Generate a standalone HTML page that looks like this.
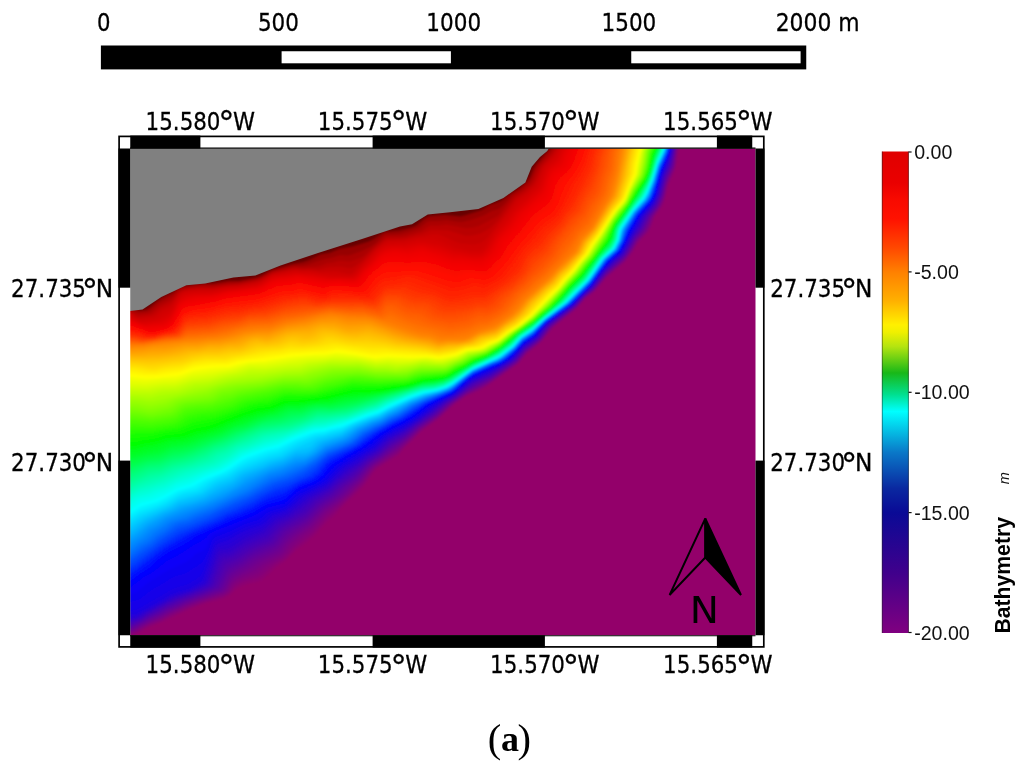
<!DOCTYPE html>
<html lang="en"><head><meta charset="utf-8"><title>Bathymetry map (a)</title>
<style>
html,body{margin:0;padding:0;background:#fff;}
body{width:1024px;height:766px;overflow:hidden;}
svg{display:block;}
.tah{font-family:"DejaVu Sans","Liberation Sans",sans-serif;font-size:25.2px;fill:#000;stroke:#000;stroke-width:0.3px;}
.ari{font-family:"Liberation Sans","DejaVu Sans",sans-serif;font-size:19.6px;fill:#111;}
</style></head><body>
<svg width="1024" height="766" viewBox="0 0 1024 766">
<defs>
<clipPath id="mapclip"><rect x="130" y="148" width="626" height="488"/></clipPath>
<filter id="soft" x="-5%" y="-5%" width="110%" height="110%"><feGaussianBlur stdDeviation="1.1"/></filter>
<linearGradient id="cbar" x1="0" y1="0" x2="0" y2="1">
<stop offset="0.0000" stop-color="#e00000"/>
<stop offset="0.0650" stop-color="#ea0000"/>
<stop offset="0.1000" stop-color="#f80a00"/>
<stop offset="0.1400" stop-color="#ff1200"/>
<stop offset="0.2000" stop-color="#ff4800"/>
<stop offset="0.2500" stop-color="#ff8000"/>
<stop offset="0.3100" stop-color="#ffb000"/>
<stop offset="0.3600" stop-color="#fff000"/>
<stop offset="0.3750" stop-color="#f0f000"/>
<stop offset="0.4050" stop-color="#b4e410"/>
<stop offset="0.4600" stop-color="#18b818"/>
<stop offset="0.5050" stop-color="#00e090"/>
<stop offset="0.5400" stop-color="#00ffff"/>
<stop offset="0.6250" stop-color="#0a78c8"/>
<stop offset="0.7000" stop-color="#0a28a0"/>
<stop offset="0.7500" stop-color="#0a0a96"/>
<stop offset="0.8750" stop-color="#40008c"/>
<stop offset="1.0000" stop-color="#800080"/>
</linearGradient>
</defs>
<rect width="1024" height="766" fill="#fff"/>

<g id="scalebar">
<rect x="100.9" y="45.5" width="705.35" height="23.9" fill="#000"/>
<rect x="281.6" y="51.25" width="169.3" height="12.05" fill="#fff"/>
<rect x="631.25" y="51.25" width="169.35" height="12.05" fill="#fff"/>
<g class="tah">
<text x="103.75" y="31" text-anchor="middle" textLength="13.5" lengthAdjust="spacingAndGlyphs">0</text>
<text x="278.4" y="31" text-anchor="middle" textLength="41" lengthAdjust="spacingAndGlyphs">500</text>
<text x="453.75" y="31" text-anchor="middle" textLength="54.8" lengthAdjust="spacingAndGlyphs">1000</text>
<text x="628.9" y="31" text-anchor="middle" textLength="54.8" lengthAdjust="spacingAndGlyphs">1500</text>
<text x="775.7" y="31" text-anchor="start" textLength="84" lengthAdjust="spacingAndGlyphs">2000 m</text>
</g></g>
<rect x="118.5" y="135.6" width="645.9" height="512" fill="#fff"/>
<g id="map" clip-path="url(#mapclip)">
<g filter="url(#soft)">
<rect x="120.25" y="138.5" width="645.25" height="506.75" fill="#680000"/>
<path fill="#970000" d="M556.4,138.5 765.5,138.5 765.5,645.5 120.5,645.5 120.5,308.9 130.5,308.6 140.5,310.4 146.5,309.4 149.5,307.6 155.5,302.3 161.5,297.9 171.5,293 178.5,288.1 184.5,285.8 202.5,283.4 213.5,283.4 228.5,281.1 238.5,281.1 256.5,277.6 261.5,275.6 271.5,270.1 291.5,264.3 303.5,262 309.5,259.9 320.5,254.6 329.5,253 339.5,249 352.5,246.6 368.5,241.7 372.5,239.8 384.5,232.1 399.5,230.4 411.5,227.6 416.5,225.4 424.5,218.7 429,216.5 444.5,215 460.5,216.4 465.5,215.3 481.5,210.2 490.5,204.7 498.5,202.2 502.5,200.1 510.7,193.5 519.5,187.9 526.5,181.7 529.8,177.5 533.5,168.8 536,164.5 549,149.5Z"/>
<path fill="#ab0000" d="M558.3,138.5 765.5,138.5 765.5,645.5 120.5,645.5 120.5,309.7 130.5,309.6 138.5,312.1 146.5,311.4 150.4,309.5 159.5,302 172.5,295.1 178.5,289.6 183.5,287.4 201.5,285 212.5,285 228.5,282.7 238.5,282.3 254.5,279.3 260.5,277.4 271.5,271.3 288.5,266.7 294.5,265.4 301.5,265.5 306.5,264.7 324.5,258.9 331.5,257.8 340.5,254.9 346.5,255.5 350.5,254.9 361.5,251 370.5,246.5 375.5,242.9 382.5,236.5 385.5,234.6 398.5,233.9 408.5,231.6 419.5,227.8 426.5,222.3 429.5,220.9 436.5,220.9 446.5,219.9 457.5,221.7 462.5,221.8 470.5,220.1 483.5,215.6 491.5,211.1 497.5,209.2 500.5,207.6 505.5,202.8 512.5,194.8 520.6,189.5 528.5,182.8 531.5,178.5 534.9,170.5 537.6,165.5 550.4,150.5 556.5,142Z"/>
<path fill="#b90000" d="M560.2,138.5 765.5,138.5 765.5,645.5 120.5,645.5 120.5,310.5 130.5,310.7 136.5,313.8 138.5,314.2 148.5,313 151.8,311.5 158.7,305.5 171.5,298.7 179.5,290.5 184.5,288.5 200.5,286.5 212.5,286.5 228.5,284.2 239.5,283.4 257.5,279.8 261.5,278.2 272.5,272.1 292.5,267.3 296.5,266.9 303.5,267.5 315.5,266.4 320.5,265.5 327.5,263.1 332.7,262.5 339.5,260.8 342.5,260.7 348.5,261.5 351.5,261.1 359.5,258.3 363.5,256.3 372.5,248 385.5,237.2 388.5,236.5 399.5,236.5 405.5,235.5 421.5,230.7 428.5,226.2 430.5,225.5 438.5,225.6 446.5,224.6 465.5,228.1 473.1,227.5 478.5,226.1 494.5,217.8 498.5,215.2 513.7,196.5 522.6,190.5 530.5,183.6 533.2,179.5 536.6,171.5 540,165.5 551.3,152.5 558.2,142.5Z"/>
<path fill="#c60000" d="M562,138.5 765.5,138.5 765.5,645.5 120.5,645.5 120.5,311.4 130.5,311.9 135.5,315.3 138.5,316.4 150.5,314.8 153.5,313.3 160.5,307.6 170.5,302.3 173.5,299.6 178.5,293 183.5,290.1 188.5,289.1 198.5,288.1 212.5,287.9 227.5,285.6 238.5,284.7 255.5,281.6 260.5,279.9 272.5,273.3 292.5,268.8 296.5,268.4 302.5,269.2 310.5,268.8 318.5,269.5 328.5,267.1 339.5,266.4 348.5,268 351.5,267.9 354.5,266.5 362.5,260.5 374.5,248.4 384.5,240.3 387.5,239 400.5,238.6 405.5,238 416.5,234.7 422.5,233.6 429.5,230.2 432.5,229.7 448.5,230.6 465.5,235.7 472.5,235.5 480.5,233.4 486.5,230.5 492.5,225.8 500.5,217.6 515.5,197.7 524.5,191.7 532.5,184.5 535,180.5 541.5,166.5 552.2,154.5 559.6,143.5Z"/>
<path fill="#cf0000" d="M563.5,139.5 563.7,138.5 765.5,138.5 765.5,645.5 120.5,645.5 120.5,312.4 129.5,312.9 131.5,313.8 136.3,317.5 139.5,318.4 152.4,316.5 155.5,315 161.5,310.3 169.5,306.3 172.5,303.3 178.5,294.9 180.5,293.2 183.8,291.5 188.5,290.4 196.5,289.6 212.5,289.3 227.5,286.8 238.5,285.8 255.5,282.7 260.5,281.2 269.5,275.8 273.5,274 293.5,270 296.5,269.8 302.5,270.6 310.5,270.4 320.5,271.7 333.5,270.9 338.5,271.4 347.5,273.4 350.5,273.5 352.5,272.7 354.5,271.1 366.5,259.3 375.5,249.4 384.5,242.6 388.5,241.1 404.5,240.3 416.5,237.2 424.5,236.3 430.5,234.4 434.5,234 438.5,234.6 443.5,236.2 454.8,241.5 461.1,243.5 473.5,244.6 479.4,243.5 483.5,241.1 487.5,237.3 502.5,218.7 517,199.5 525.5,193.7 534.3,185.5 536.7,181.5 543,167.5 545.2,164.5 553.5,156 561.5,143.5Z"/>
<path fill="#d40000" d="M565.3,138.5 765.5,138.5 765.5,645.5 120.5,645.5 120.5,313.5 129.5,314.2 135.5,318.5 139.5,320 142.5,320.2 153.5,318.4 156.5,317.3 162.5,313.1 169.5,309.5 172.5,306.1 178.5,296.9 181.2,294.5 184.5,292.8 188.5,291.8 195.5,291.1 212.5,290.6 226.5,288 238.5,286.9 255.5,283.9 260.5,282.4 269.5,276.9 273.5,275.2 293.5,271.4 310.5,271.8 322.5,273.6 347.5,275.6 351.5,275.5 353.5,274.6 355.5,272.9 376.4,250.5 383.5,245.3 388.5,243.2 404.5,242.4 418.5,239.2 433.5,239.1 440.5,240.8 456,247.5 470.5,250.2 480.5,249.7 482.5,248.5 485.5,245.3 495.4,230.5 518.5,201.7 526.5,195.7 536.1,186.5 538.5,182.2 544.4,168.5 546.7,165.5 554.8,157.5 563.3,143.5Z"/>
<path fill="#d90000" d="M567,138.5 765.5,138.5 765.5,645.5 120.5,645.5 120.5,314.7 126.5,314.9 129.5,315.6 135.5,319.6 140.5,321.6 144.5,321.7 155.5,320 159.4,318.5 169.5,312.4 172.5,308.8 178.5,298.9 181.5,296.1 185.5,294.1 195.5,292.5 211.5,292.1 226.5,289.1 238.5,288 256.5,284.9 261.5,283.1 269.5,278.1 273.5,276.3 293.5,272.7 296.5,272.4 303.5,273.3 311.5,273.4 330.5,276.3 349.5,277.1 352.5,276.8 356,274.5 377.5,251.5 384.5,246.6 390.5,244.9 404.5,244.6 417.5,241.7 422.5,241.5 439.5,244.2 454.5,250.1 460.5,250.7 471.5,253 478.5,252.9 481.5,252.3 484,250.5 486.6,247.5 495.5,233.6 505.9,221.5 512.2,212.5 520.5,203.5 527.5,197.8 537.5,187.9 540,183.5 545.9,169.5 548.2,166.5 556.5,158.6 565.1,143.5Z"/>
<path fill="#df0000" d="M568.5,139.5 568.7,138.5 765.5,138.5 765.5,645.5 120.5,645.5 120.5,316.2 128.5,316.7 137.5,321.7 142.5,323.2 145.5,323.2 158.5,321.3 161.5,320.1 169.5,315.2 171.5,312.9 178.5,300.9 181.5,298.1 185.5,295.9 189.5,294.7 195.5,294 211.5,293.4 226.5,290.2 238.5,289 256.5,286 261.5,284.3 271.5,278.3 276.5,276.7 296.5,273.6 312.5,274.9 329.5,277.8 340.5,277.7 350.5,278.3 353.5,277.9 357,275.5 362.5,269 369.6,262.5 378.5,252.6 384.5,248.6 391.5,246.6 395.5,246.3 405.5,246.7 418.5,243.9 423.5,243.8 440.5,247.5 454.5,252.8 460.5,253 471.5,255.2 478.5,255.3 481.5,254.7 484.5,252.8 487.6,249.5 496.5,235.4 508,222.5 514.8,212.5 538.8,189.5 541.1,185.5 547.3,170.5 549.5,167.8 555.8,162.5 558.3,159.5 561.6,152.5 566.9,143.5Z"/>
<path fill="#e40000" d="M570.4,138.5 765.5,138.5 765.5,645.5 120.5,645.5 120.5,318 128.5,318.1 138.5,323 144.5,324.7 160.5,322.8 163.8,321.5 169.5,317.8 172.5,313.9 178.5,302.8 181.5,300 186.5,297.3 195.5,295.5 211.5,294.7 227.5,291 237.5,290.1 256.5,287.2 261.5,285.5 271.5,279.5 277.5,277.8 297.5,274.8 313.5,276.5 328.5,279 340.5,278.8 353.5,279.3 355.5,278.5 357.5,276.9 363.5,269.9 370.6,263.5 379.5,253.7 384.5,250.6 391.5,248.5 396.5,248.1 406.5,249 418.5,246.3 423.5,246 441.5,250.7 453.5,255.3 460.5,255.4 473.5,257.4 478.5,257.5 481.5,257 485.6,254.5 489.5,250.5 497.5,237.2 510.1,223.5 516.5,213.5 537.5,194 540.5,190.7 542.5,187.2 548.5,172.1 551.4,168.5 559.5,161.5 563.1,153.5 568.7,143.5Z"/>
<path fill="#e90000" d="M572.2,138.5 765.5,138.5 765.5,645.5 120.5,645.5 120.5,319.8 125.5,319.3 129.5,319.7 139.5,324.3 145.5,326 162.5,324.2 166.5,322.3 170.5,319 172.5,316.2 178.7,304.5 181.5,301.9 186.5,299.2 195.5,297.1 212.5,295.8 227.5,292.1 237.5,291.1 257.5,288.1 262.5,286.2 271.5,280.8 277.5,279 286.5,278 297.5,276 326.5,280.2 340.5,279.8 351.5,280.8 354.5,280.5 357.8,278.5 364.7,270.5 371.5,264.5 380.5,254.9 385.5,252.1 392.5,250.3 396.5,250.1 407.5,251.4 419.5,248.5 423.5,248.3 433.5,251.7 441.5,253.5 453.5,257.9 460.5,257.8 474.5,259.6 481.5,259.3 486.3,256.5 490.7,252.5 498.9,238.5 511.5,225.1 519.3,213.5 541.8,192.5 544.1,188.5 547.5,178.6 550.5,172.5 552.5,170.1 559.5,164.9 561.6,162.5 564.8,154.5 570.5,143.6Z"/>
<path fill="#ee0000" d="M574.1,138.5 765.5,138.5 765.5,645.5 120.5,645.5 120.5,321.5 125.5,320.8 129.5,321 140.5,325.5 146.5,327.3 163.5,325.6 167.5,323.6 171.5,319.7 179.5,305.3 182.5,303 186.5,301 196.5,298.6 212.5,297 227.5,293.1 257.5,289.3 262.5,287.5 271.5,282.1 277.5,280.3 287.5,279.3 297.5,277.2 325.5,281.5 339.5,280.8 351.5,282 355.5,281.6 358.7,279.5 365.5,271.5 373.4,264.5 380.5,257 385.5,254.1 392.5,252.3 396.5,252.2 404.5,253.6 408.5,253.7 422.5,250.8 440.5,255.9 452.5,260.2 461.5,260.2 478.5,262 482.5,261.4 488.4,257.5 492.8,253.5 494.9,250.5 500.6,239.5 513,226.5 521.3,214.5 543.5,194 545.5,190.5 548.6,180.5 551.5,174.5 554,171.5 561.3,166.5 563.8,163.5 566.2,156.5 571.5,145.5Z"/>
<path fill="#f10200" d="M576,138.5 765.5,138.5 765.5,645.5 120.5,645.5 120.5,323 126.5,322.1 130.5,322.3 141.5,326.7 147.5,328.5 164.5,326.7 167.5,325.2 172.5,320 177.5,310.2 180,306.5 182.5,304.6 186.5,302.6 197.5,300.1 213.5,298 227.5,294.2 257.5,290.5 262.5,288.7 271.5,283.5 277.5,281.6 288.5,280.5 298.5,278.5 324.5,282.9 339.5,281.9 351.5,283.2 355.5,283 357.5,282.3 359.5,280.7 366.5,272.3 381.5,258.3 385.5,256.1 391.5,254.7 396.5,254.5 408.5,256 420.5,253.7 423.5,253.7 438.5,257.7 452.5,262.5 461.5,262.5 479.5,264.4 482.5,264.2 488.5,260.1 494.9,254.5 497.5,250.6 502.5,240.5 514.5,227.9 525.1,213.5 536.9,202.5 542.5,198.4 545.2,195.5 547.5,191 550.5,180.7 553.2,175.5 556,172.5 563.5,167.6 565.9,164.5Z"/>
<path fill="#f40400" d="M577.8,138.5 765.5,138.5 765.5,645.5 120.5,645.5 120.5,324.3 126.5,323.3 130.5,323.4 145.5,328.9 149.5,329.7 165.3,327.5 168.5,325.7 173.3,320.5 178.4,310.5 180.5,307.6 186.5,304.2 198.5,301.5 213.5,299.2 227.5,295.4 257.5,291.6 262.5,289.9 272.5,284.6 277.5,283.1 288.5,281.9 298.5,279.8 323.5,284.3 339.5,283 351.5,284.4 356.5,284.1 358.5,283.4 360.5,281.8 368.1,272.5 381.5,260.5 385.5,258.2 389.5,257.2 395.5,256.9 408.5,258.2 420.5,256.5 423.5,256.5 436.8,259.5 452.5,264.9 463.5,265 480.5,266.9 483.5,266.6 486.5,264.6 496.8,255.5 499.5,251.5 504.6,241.5 515.9,229.5 528,213.5 538.5,204.1 544.5,199.9 546.5,197.7 548.8,193.5 551.6,183.5 554.4,177.5 557.5,174.1 565.5,168.5 567.7,165.5Z"/>
<path fill="#f60600" d="M579.5,139.5 579.7,138.5 765.5,138.5 765.5,645.5 120.5,645.5 120.5,325.4 127.5,324.5 131.5,324.7 146.5,330.1 150.5,330.9 164.6,328.5 168.5,326.8 173.5,321.7 180.5,309.2 182.5,307.6 186.5,305.6 192.5,304 212.5,300.7 227.5,296.5 257.5,292.9 262.5,291.2 272.5,286.1 278.5,284.3 289.5,283.2 298.5,281.2 323.5,285.9 331.5,284.4 337.5,284.2 352.5,285.6 357.5,285.4 361,283.5 369,273.5 380.5,263.4 384.5,260.7 388.5,259.7 395.5,259.4 407.5,260.3 422.5,259.1 435.5,261.5 446.5,265.7 453.5,267.7 465.5,267.4 481.5,269.2 484.5,268.8 487.5,266.8 498.6,256.5 501.3,252.5 506.5,242.9 517.9,230.5 530.1,214.5 538.5,207.3 545.5,202.4 548.1,199.5 550.2,195.5 553.4,184.5 555.8,179.5 559.1,175.5 566.5,170.1 569.3,166.5Z"/>
<path fill="#f90800" d="M581.3,139.5 581.6,138.5 765.5,138.5 765.5,645.5 120.5,645.5 120.5,326.4 128.5,325.5 132.5,325.9 150.5,331.9 154.4,331.5 165.5,328.9 168.9,327.5 173.9,322.5 180.7,310.5 182.5,308.9 186.5,307 192.5,305.4 212.5,301.9 227.5,297.8 258.5,293.9 273.5,287.3 278.5,285.8 290.5,284.5 299.5,282.5 322.5,287.5 325.5,287.3 331.5,285.5 335.5,285.3 342.5,285.5 353.5,286.8 359.4,286.5 362.5,284.3 369.1,275.5 371.5,273 382.5,263.9 387.5,262.1 394.5,261.8 406.5,262.5 421.5,261.6 433.5,263.6 450.5,269.7 454.5,270.7 458.5,270.7 466.5,269.7 474.5,270.1 482.5,271.3 485.5,270.9 488.5,268.9 500.3,257.5 503.1,253.5 507.5,245.5 519.5,232 532.4,215.5 546.5,204.9 549.5,201.6 551.7,197.5 554.9,186.5 557.5,180.9 561.2,176.5 568.4,170.5 571.1,166.5 575,157.5Z"/>
<path fill="#fc0a00" d="M583.5,138.5 765.5,138.5 765.5,645.5 120.5,645.5 120.5,327.4 128.5,326.6 132.5,326.8 150.5,332.8 153.5,332.5 165.6,329.5 169.5,328 174.1,323.5 181.5,311.1 187.5,308 193.5,306.5 211.5,303.4 226.5,299.2 258.5,295.1 273.5,288.9 279.5,287.2 291.5,285.9 299.5,284 322.5,289.2 325.5,288.9 330.5,286.9 334.5,286.5 341.5,286.6 356.5,288.2 360.5,287.9 363.5,285.8 370.2,276.5 372.5,274.1 382.5,266.1 387.5,264.4 405.5,264.8 416.5,263.8 420.5,264.1 431.5,266.2 451.5,273.1 455.5,273.9 467.5,271.8 475.5,272.2 483.5,273.4 486.5,272.9 489.5,270.9 502,258.5 509.5,246.7 520.5,234.2 533.5,217.9 537.5,214.4 547.5,207.4 551,203.5 553.2,199.5 556.3,188.5 559.1,182.5 563,177.5 569.6,171.5 572.4,167.5 576.6,158.5Z"/>
<path fill="#ff0c00" d="M585.2,138.5 765.5,138.5 765.5,645.5 120.5,645.5 120.5,328.3 132.5,327.7 139.5,329.6 149.5,333.4 153.5,333.2 167.8,329.5 170.5,328.2 175.9,322.5 181.5,312.5 183.5,311 187.5,309.3 193.5,307.7 210.5,305 226.5,300.5 258.5,296.4 274.5,290.1 279.5,288.7 292.5,287.4 300.5,285.6 322.5,290.9 324.5,290.7 330.5,288.1 333.5,287.6 342.5,287.8 358.5,289.6 361.5,289.4 364.5,287.2 373.2,275.5 382.5,268.3 386.5,267 393.5,266.6 405.5,267 418.5,266.4 427.5,268.3 454.5,276.8 458.5,276.6 465.5,274.3 468.5,273.9 476.5,274.3 484.5,275.5 487.5,274.9 490.5,272.9 503.5,259.7 511.5,247.9 535.4,219.5 539.5,215.9 548.5,209.7 552.3,205.5 555.1,200.5 557.8,190.5 560.6,184.5 564,179.5 572.4,170.5 577.7,160.5Z"/>
<path fill="#ff1000" d="M586.9,138.5 765.5,138.5 765.5,645.5 120.5,645.5 120.5,329.2 133.5,328.7 140.5,330.6 148.5,333.8 153.5,333.8 168.5,329.9 171.3,328.5 176.5,323 181.5,313.9 183.5,312.2 187.5,310.5 194.5,308.7 208.5,306.8 225.5,302 258.5,297.7 274.5,291.7 280.5,290.1 293.5,288.9 300.5,287.2 322.5,292.6 325.5,292 330.5,289.4 334.5,288.8 344.5,289.1 359.5,291 362.5,290.8 365.6,288.5 374.5,276.7 382.5,270.8 386.5,269.5 417.5,268.8 424.5,270.3 435.5,274.1 454.5,279.5 459.5,279.1 468.5,276.1 476.5,276.3 484.5,277.6 488.5,276.8 492,274.5 504.5,261.5 517,244.5 536.7,221.5 540.5,218 550,211.5 553.6,207.5 556.9,201.5 559.5,192.4 562.6,185.5 565.8,180.5 573.5,171.6 579.5,160.8Z"/>
<path fill="#ff1400" d="M588.4,138.5 765.5,138.5 765.5,645.5 120.5,645.5 120.5,330.1 133.5,329.6 140.5,331.3 148.5,334.5 153.5,334.4 171.5,329.2 177,323.5 182.5,314.2 188.5,311.4 195.5,309.8 207.5,308.3 225.5,303.3 258.5,299 269.5,294.9 280.5,291.6 293.5,290.5 300.5,288.8 322.5,294.1 325.5,293.5 331.2,290.5 334.5,290 345.5,290.4 359.5,292.2 363.5,292.1 366.5,290.1 375.5,278.3 382.5,273.5 386.5,272.3 396.5,271.4 416.5,271 423.5,272.8 450.5,281.3 454.5,282.1 461.5,281.2 467.5,278.9 470.5,278.3 477.5,278.5 484.5,279.9 488.5,279.1 494.2,275.5 506.2,262.5 518.7,245.5 538.7,222.5 542.1,219.5 551.1,213.5 554.7,209.5 558.5,203 562,192.5 565.2,185.5 568.4,180.5 574.9,172.5 581,161.5Z"/>
<path fill="#ff1800" d="M589.9,138.5 765.5,138.5 765.5,645.5 120.5,645.5 120.5,330.9 134.5,330.5 140.5,332 148.5,335 153.5,334.9 169.5,330.7 172.4,329.5 177.5,324.2 182.5,315.6 184.5,314.1 188.5,312.6 195.5,311 207.5,309.6 225.5,304.6 258.5,300.4 268.5,296.7 281.5,293 293.5,292.1 301.5,290.4 322.5,295.5 325.5,294.9 331.5,291.8 334.5,291.3 346.5,291.6 359.5,293.4 364.5,293.4 367.5,291.5 377.3,279.5 382.5,276.2 385.5,275.3 403.5,273.1 414.5,273 453.5,284.8 462.5,283.7 471.5,280.6 477.5,280.8 484.5,282.2 489.5,280.9 495.2,277.5 499.6,273.5 509.5,261.7 520.5,246.3 539.6,224.5 543.5,221 552.5,215 555.5,211.7 560.5,203.5 564.6,192.5 568.4,184.5 576.3,173.5 582.5,162.3Z"/>
<path fill="#ff1c00" d="M591.3,138.5 765.5,138.5 765.5,645.5 120.5,645.5 120.5,331.7 134.5,331.3 139.9,332.5 148,335.5 153.5,335.4 172.5,330.2 177.5,325.4 183,316.5 184.5,315.3 187.5,314.1 194.5,312.3 206.5,311.2 226.5,305.8 235.5,305 258.5,301.7 268.5,298.2 281.5,294.5 293.5,293.5 301.5,291.8 309.5,293.3 321.5,296.6 325.5,296.1 332.5,293 336.5,292.6 346.5,292.7 359.5,294.5 365.5,294.6 367.9,293.5 377.3,282.5 381.5,279.4 384.5,278.2 393.5,277.1 403.5,275.1 410.5,274.7 415.5,275.5 452.5,287.9 464.5,286 472.5,283.1 477.5,283.3 483.5,284.8 487.5,283.9 495.9,279.5 501,275.5 511.5,262.6 521.9,247.5 530.6,238.5 540.4,226.5 544.5,222.8 553.5,216.8 556.5,213.5 562.1,204.5 571.1,184.5 577.5,175.2 584.2,162.5Z"/>
<path fill="#ff2000" d="M592.7,138.5 765.5,138.5 765.5,645.5 120.5,645.5 120.5,332.5 134.5,332 139.5,333.1 147.5,335.9 153.5,335.8 162.5,333.1 171.1,331.5 173.4,330.5 178.4,325.5 183.5,317.3 187.5,315.3 194.5,313.6 206.5,312.5 226.5,307.2 235.5,306.4 259.5,302.9 282.5,295.8 293.5,294.8 301.5,293.2 307.5,294.1 321.5,297.8 325.5,297.3 332.5,294.5 338.5,293.9 347.5,294 358.5,295.5 366.5,295.9 369.4,294.5 378.5,284.4 382.5,281.6 385.5,280.6 395.5,279.4 405.5,276.8 410.5,276.8 415.5,278 451.5,291.1 454.5,291.1 464.5,288.8 473.5,285.8 477.5,286 482.5,287.4 485.5,287.1 497.8,280.5 503,276.5 512.9,264.5 524.5,247.3 533.4,238.5 542.5,227.2 553.5,219.2 557.5,215 563.7,205.5 573.8,184.5 579,176.5 585.5,163.9Z"/>
<path fill="#ff2400" d="M594.2,138.5 765.5,138.5 765.5,645.5 120.5,645.5 120.5,333.3 134.5,332.8 138.5,333.5 147.5,336.5 153.5,336.2 162.5,333.6 173.5,331.2 178.5,326.5 183.5,318.7 185.5,317.1 187.5,316.4 194.5,314.9 206.5,313.8 227.5,308.5 236.5,307.7 259.5,304.2 283.5,297.1 293.5,296.1 302.5,294.5 307.5,295.3 317.5,298.3 321.5,298.8 325.5,298.3 332.5,295.9 340.5,295.1 347.5,295.2 358.5,296.6 368.5,297 370.5,295.9 379.3,286.5 382.5,284.2 386.5,282.8 397.5,281.4 406.5,278.9 410.5,279.1 414.5,280.3 437.5,288.4 447.5,293.1 451.5,294.1 456.5,293.7 473.5,288.7 482.5,290.2 485.5,289.7 499.6,281.5 504.7,277.5 515.2,265.5 526,248.5 535.5,239.5 543.5,229.1 553.5,221.7 558.5,216.5 566.4,204.5 587.2,164.5Z"/>
<path fill="#ff2800" d="M595.7,138.5 765.5,138.5 765.5,645.5 120.5,645.5 120.5,334 134.5,333.5 138.5,334.2 146.5,336.8 150.5,337 154.2,336.5 162.5,334 171.5,332.5 174.5,331.5 178.7,327.5 184.1,319.5 187.5,317.6 194.5,316.2 206.5,315.2 227.5,310 237.5,309.1 252.5,306.4 260.5,305.4 282.5,298.7 294.5,297.3 301.5,295.9 306.5,296.2 316.5,299.2 320.5,299.8 325.5,299.3 332.5,297.3 342.5,296.4 369.5,298.3 371.5,297.4 380,288.5 383.5,286 387.5,284.8 398.4,283.5 406.5,281.5 411.5,282.2 423.5,286.9 435.5,290.4 445.5,295.2 450.5,296.6 457.5,296.1 473.5,291.8 482.5,292.8 485.5,292.2 502.5,281.6 507.3,277.5 516.7,267.5 522.8,256.5 527.5,249.8 537.7,240.5 545.2,230.5 553.5,224.2 559.1,218.5 567.4,206.5 574.4,194.5 578,186.5 588.3,166.5Z"/>
<path fill="#ff2c00" d="M597.3,138.5 765.5,138.5 765.5,645.5 120.5,645.5 120.5,334.8 134.5,334.2 146.5,337.4 154.5,336.9 163.5,334.3 174.5,332.3 178.8,328.5 184.5,320.5 187.5,318.8 194.5,317.5 206.5,316.7 227.5,311.5 237.5,310.6 252.5,307.7 261.5,306.7 282.5,300.2 301.5,297.2 306.5,297.4 319.5,300.8 324.5,300.4 332.5,298.6 343.5,297.7 370.5,299.6 373,298.5 380.5,290.5 384.5,287.6 388.5,286.6 404.5,284.6 408.5,284.8 420.9,289.5 434.5,292.6 444.5,297.4 449.5,298.9 453.5,299 459.5,298.3 472.5,295 481.5,295.3 485.5,294.6 504.5,282.3 515.5,272.2 519.3,267.5 523.9,258.5 528.5,251.8 539.5,242 546.5,232.5 554.5,225.8 560.4,219.5 569.7,206.5 575.6,196.5 589.9,167.5 595.9,145.5Z"/>
<path fill="#ff3000" d="M599,138.5 765.5,138.5 765.5,645.5 120.5,645.5 120.5,335.5 134.5,334.9 145.5,337.8 154.5,337.3 163.5,334.7 172.5,333.5 175.5,332.5 179,329.5 184.5,322.1 187.5,320.2 194.5,319 206.5,318.2 227.5,313.1 237.5,312.2 252.5,309.1 262.5,308 283.5,301.5 301.5,298.5 305.5,298.5 314.5,301.1 319.5,301.8 332.5,299.8 344.5,299.1 362.5,300 371.5,301 374.5,299.5 383.5,290.1 386.5,288.8 389.5,288.3 405.5,287.6 418.5,292.2 433.5,294.9 444.5,300.1 449.5,301.3 460.5,300.6 473.5,297.7 482.5,297.6 485.5,296.9 506.5,283 518.1,272.5 521.1,268.5 525.5,259.5 528.5,255.1 542.2,242.5 547.9,234.5 560.5,222.1 565.6,214.5 571.4,207.5 578.3,195.5 591.9,167.5 594.5,155.6 597.8,145.5Z"/>
<path fill="#ff3600" d="M600.9,138.5 765.5,138.5 765.5,645.5 120.5,645.5 120.5,336.3 134.5,335.7 143.5,338 148.5,338.4 154.5,337.7 164.5,335 173.5,333.9 177.5,332.1 184.5,323.6 187.5,321.6 194.5,320.5 207.5,319.6 227.5,314.7 237.5,313.8 251.5,310.6 263.5,309.4 269.5,307.9 284.5,302.8 302.5,299.8 306.5,300 313.5,302.1 318.5,302.8 331.5,301 344.5,300.4 361.5,300.9 372.5,302.2 375.5,300.8 383.5,292.2 386.5,290.6 389.5,290.1 403.5,290.2 416.5,294.7 427.5,296 432.5,297.2 436.5,298.7 443.5,302.6 448.5,303.7 465.5,302.7 474.5,300.3 483.5,299.7 486.5,298.8 497.5,290.9 508.5,283.9 519.5,273.8 522.8,269.5 526.6,261.5 529.5,257.2 543.5,244.5 549.5,236.1 561.5,223.5 566.9,215.5 573.3,208.5 587.2,182.5 593.5,168.5 596.3,155.5 599.7,145.5Z"/>
<path fill="#ff3b00" d="M602.8,138.5 765.5,138.5 765.5,645.5 120.5,645.5 120.5,337.1 134.5,336.4 142.5,338.5 147.5,338.8 154.5,338.1 164.5,335.5 174.5,334.2 178.1,332.5 184.5,325.1 187.5,323 195.5,322 207.5,321.2 225.5,316.7 238.5,315.3 250.5,312.1 264.5,310.8 285.5,304.2 302.5,301.4 306.5,301.5 312.5,303.1 317.5,303.8 331.5,302 343.5,301.7 361.5,302 373.5,303.5 376.5,302.1 384.5,293.5 386.5,292.5 389.5,291.9 400.5,292.1 415.5,297.3 428.5,298.6 435.5,301.1 442.5,305.3 446.5,306.3 465.5,305.3 476.5,302.4 486.5,301.3 490.5,299 499.5,291.8 509.5,285.5 520.5,275.4 524.3,270.5 530.5,259.3 533.3,256.5 540,251.5 543.5,247.9 551.5,237 562.9,224.5 568.3,216.5 575.2,209.5 584.3,191.5 589.1,183.5 595.1,169.5 596.5,164.7 597.8,156.5 601.3,146.5Z"/>
<path fill="#ff4100" d="M604.8,138.5 765.5,138.5 765.5,645.5 120.5,645.5 120.5,337.8 134.5,337.1 142.5,339.2 146.5,339.3 154.5,338.5 165.5,335.8 174.5,334.8 178.5,333.2 184.5,326.6 187.5,324.6 208.5,322.7 225.5,318.3 238.5,316.9 250.5,313.5 265.5,312.3 286.5,305.6 303.5,302.9 316.5,304.9 331.5,303 343.5,303 361.5,303.1 370.5,304.7 374.5,304.8 377.5,303.3 384.5,295.6 386.5,294.5 389.5,293.9 399.5,294.3 413.5,299.7 427.5,301 433.5,303.3 440.5,307.7 445.5,309.1 450.5,309.2 465.5,307.8 470.5,306.8 477.5,304.4 484.5,304.3 487.5,303.6 491.5,301.2 500.5,293.5 511.2,286.5 521.9,276.5 525.9,271.5 532.5,260.5 544.5,250.6 552.9,238.5 563.5,226.4 569.5,218 577.1,210.5 585.5,193.7 590.6,185.5 596.5,170.8 598.2,165.5 599.7,156.5 602.9,147.5Z"/>
<path fill="#ff4700" d="M606.8,138.5 765.5,138.5 765.5,645.5 120.5,645.5 120.5,338.6 133.5,337.8 141.5,339.7 146.5,339.8 155.5,338.7 164.5,336.4 175.5,335.2 179.3,333.5 184.5,327.9 187.5,326.1 209.5,324.2 223.5,320.3 238.5,318.4 249.5,314.9 266.5,313.7 286.5,307.4 303.5,304.8 316.5,306 331.5,304 351.5,304.6 360.5,304.2 371.5,306 375.5,306.1 378.5,304.5 384.5,297.8 386.5,296.6 389.5,296 399.5,296.7 409.5,301.3 413.5,302.5 426.5,303.5 431.1,305.5 438.5,310.4 445.5,312.1 450.5,312.2 465.5,310.3 470.5,309.2 478.5,306.5 485.5,306.8 488.5,306.1 493.5,302.8 501.5,295.3 512.5,287.7 522.5,278.4 526.7,273.5 534.5,262.4 546.5,252 554.7,239.5 564.9,227.5 570.8,219.5 579,211.5 585.5,198.3 590.7,190.5 593.2,185.5 599.5,167.5 601.3,157.5 604.7,147.5Z"/>
<path fill="#ff4d00" d="M608.9,138.5 765.5,138.5 765.5,645.5 120.5,645.5 120.5,339.4 133.5,338.5 140.5,340.1 144.5,340.4 154.5,339.2 165.5,336.7 175.5,335.8 179.5,334.3 184.5,329.2 187.5,327.5 209.5,325.7 222.5,322 238.5,319.9 249.5,316.2 265.5,315.4 285.5,309.4 304.5,306.6 317.5,307 332.5,305 351.5,305.9 361.5,305.3 371.5,307.2 376.5,307.4 379.5,305.8 384.5,300 386.5,298.8 389.5,298.2 398.5,299 407.5,303.6 411.5,304.9 425.5,306.4 428.5,307.8 436.5,313.3 445.5,315.1 451.5,315.1 464.5,313.1 470.5,311.6 478.5,308.7 485.5,309.3 489.5,308.6 494.5,305.5 502.5,297.5 514,288.5 523.9,279.5 533.5,267.8 539.5,261.5 548.5,253.4 557.3,239.5 571.9,221.5 580.9,212.5 586.5,201 592.6,192.5 594.7,188.5 601.5,167.5 603.3,157.5Z"/>
<path fill="#ff5200" d="M610.9,138.5 765.5,138.5 765.5,645.5 120.5,645.5 120.5,340.2 133.5,339.3 140.5,340.8 144.5,340.8 155.5,339.5 165.5,337.2 176.5,336.2 180.5,334.5 184.5,330.5 187.5,328.9 209.5,327.3 222.5,323.6 238.5,321.3 249.5,317.5 266.5,316.7 284.5,311.3 305.5,308.3 317.5,308.1 331.5,305.9 350.5,307.1 361.5,306.5 372.5,308.6 377.5,308.9 380.1,307.5 385.5,301.5 389.5,300.4 396.5,301.1 405.5,305.8 409.5,307.4 423.5,309.3 426.5,310.6 434.5,315.8 446.5,318 452.5,318.1 463.5,316.3 469.5,314.6 478.5,311.1 486.5,311.8 490.5,310.6 497.2,306.5 506.9,296.5 523.5,282.3 532.5,272.3 549.6,255.5 552.5,251.9 556.5,244.5 560,239.5 572.5,224.2 582.9,213.5 588.2,202.5 594.5,194.5 596.6,190.5 603.9,166.5 605.7,156.5Z"/>
<path fill="#ff5800" d="M612.9,138.5 765.5,138.5 765.5,645.5 120.5,645.5 120.5,341.1 133.5,340 139.5,341.3 143.5,341.4 155.5,339.9 165.5,337.7 176.5,336.8 180.3,335.5 185.5,331.1 187.5,330.3 209.5,328.7 223.5,325 238.5,322.6 250.5,318.7 266.5,318.2 285.5,312.8 307.5,309.7 317.5,309.1 330.5,306.9 350.5,308.4 361.5,307.7 377.5,310.5 380.5,309.5 384.5,304.7 386.5,303.4 392.5,302.9 396.5,304 407.5,309.8 422.5,312.3 434,318.5 449.5,321 453.5,320.9 465.5,318.8 478.5,313.6 485.5,314.3 489.5,313.3 495.5,310.5 499.6,307.5 511.9,294.5 524.7,283.5 532.5,275.2 540.3,268.5 552.5,255.5 561.5,241.4 573.5,226.6 584.8,214.5 589.6,204.5 596.6,195.5 598.7,191.5 603.2,174.5 606.1,166.5 608.6,152.5Z"/>
<path fill="#ff5e00" d="M614.7,138.5 765.5,138.5 765.5,645.5 120.5,645.5 120.5,341.9 132.5,340.7 139.5,341.9 143.5,341.9 155.5,340.3 164.5,338.4 176.5,337.4 180.5,336.2 185.5,332.4 187.5,331.6 210.5,329.9 223.5,326.7 238.5,323.9 250.5,320.1 267.5,319.5 284.5,314.5 316.5,310.3 330.5,307.9 350.5,309.6 361.5,309 378.5,312.2 381.5,311.2 386.5,306 391.5,305.4 394.5,306.1 402.5,310.7 407.5,312.9 419.5,314.5 432.5,320.6 449.5,323.7 453.5,323.6 466.5,321.4 478.5,316.4 485.5,316.7 488.5,316 496.5,312.3 501.8,308.5 515.4,293.5 526.1,284.5 533.5,277 541.5,270.3 554.5,256.4 562.5,244.3 575.1,228.5 586,216.5 591.7,205.5 598.4,196.5 600.9,191.5 604.8,176.5 608.2,167.5 610.3,152.5Z"/>
<path fill="#ff6300" d="M616.4,138.5 765.5,138.5 765.5,645.5 120.5,645.5 120.5,342.7 132.5,341.5 139.5,342.5 143.5,342.4 165.5,338.8 177.5,337.8 181.5,336.5 185.5,333.6 187.5,332.9 194.5,332.7 211.5,331.1 239.5,324.9 250.5,321.5 268.5,320.8 284.5,316 330.5,308.9 350.5,310.8 362.5,310.4 379.5,313.9 382.5,312.9 386.5,309 388.5,308.4 391.5,308.4 394.5,309.4 406.8,315.5 418.5,317.4 430.5,322.6 449.5,326.4 453.5,326.2 465.5,324.3 470.5,322.8 478.5,319.2 485.5,319.1 488.5,318.3 497.5,314 503.7,309.5 507.5,305.8 517.5,293.8 527.5,285.7 533.6,279.5 542.5,272 556.3,257.5 562.5,248.5 569.5,240.2 576.4,230.5 583.5,223.1 587.5,218.1 593.7,206.5 600.5,196.7 603,191.5 606.5,177.5 610,168.5 612,152.5Z"/>
<path fill="#ff6900" d="M617.9,138.5 765.5,138.5 765.5,645.5 120.5,645.5 120.5,343.6 132.5,342.2 142.5,343 164.5,339.4 177.5,338.4 181.5,337.3 187.5,334.2 194.5,334.1 212.5,332.3 239.5,326.2 250.5,323 269.5,322.2 284.5,317.5 293.5,316.4 330.5,309.8 350.5,312 362.5,311.7 380.5,315.6 382.5,315.3 387.5,311.8 391.5,311.6 407.5,318.5 418.5,320.8 428.5,324.6 449.5,329 454.5,328.8 464.5,327.1 470.5,325.4 478.5,321.9 485.5,321.4 488.5,320.6 498.5,315.6 505.5,310.5 519.4,294.5 528.5,287.2 535.2,280.5 543.6,273.5 558.1,258.5 564.5,249.7 571.4,241.5 577.5,232.4 587.7,221.5 591.5,215.6 596.8,205.5 602.6,196.5 604.9,191.5 608.2,178.5 611.8,168.5 613.5,153.5Z"/>
<path fill="#ff6f00" d="M619.3,138.5 765.5,138.5 765.5,645.5 120.5,645.5 120.5,344.4 132.5,343 143.5,343.4 164.5,340 178.5,338.9 181.5,338.1 187.5,335.5 195.5,335.3 214.5,333.4 226.5,331 251.5,324.4 270.5,323.5 285.5,318.7 304.5,315.9 330.5,310.9 349.5,313.1 364.5,313.2 381.5,317.2 383.5,317 387.5,314.9 391.5,314.8 406.5,320.9 424.5,326.3 436.5,328.7 443.5,330.8 448.5,331.4 454.5,331.3 463.5,329.8 470.5,327.9 478.5,324.5 486.5,323.4 489.1,322.5 498.5,317.8 507.2,311.5 521.2,295.5 529.5,288.7 535.6,282.5 545.1,274.5 560.5,258.6 571.5,245 579.1,233.5 588.9,223.5 604.6,196.5 606.5,192.2 609.8,179.5 613.2,169.5 615.2,153.5Z"/>
<path fill="#ff7500" d="M620.6,138.5 765.5,138.5 765.5,645.5 120.5,645.5 120.5,345.2 132.5,343.7 143.5,344 165.4,340.5 179.5,339.3 187.5,336.7 195.5,336.6 215.5,334.6 226.5,332.6 236.7,329.5 250.5,326.2 255.5,325.5 270.5,325 285.5,320.1 304.5,317.2 320.5,313.5 330.5,311.9 349.5,314.3 365.5,314.5 382.5,318.7 388.5,317.6 390.5,317.7 407.5,324 418.7,327.5 434.5,330.7 441.5,333 445.5,333.7 453.5,333.8 462.1,332.5 469.5,330.6 479.5,326.7 489.5,324.4 498.5,320 508.5,312.8 522.5,296.9 546.5,275.6 561.4,260.5 570.9,249.5 579.8,235.5 587.5,228.1 590.5,224.5 606.5,196.5 608.2,192.5 614.8,169.5 616.6,154.5Z"/>
<path fill="#ff7a00" d="M621.9,138.5 765.5,138.5 765.5,645.5 120.5,645.5 120.5,346.1 132.5,344.5 143.5,344.6 164.5,341.3 179.5,340.1 187.5,337.9 195.5,337.9 216.5,335.9 226.5,334.1 239.5,330.1 251.5,327.6 270.5,326.4 286.5,321.2 303.5,318.7 320.5,314.5 330.5,313 335.5,313.3 349.5,315.5 366.5,315.9 382.5,320.1 389.5,320.4 417.5,329.9 432.5,332.6 440.5,335.5 443.5,336 453.5,336 464.5,334.3 470.5,332.6 479.5,328.9 491.5,325.6 499.2,321.5 510.3,313.5 523.5,298.3 548,276.5 572.9,250.5 581.1,236.5 588.5,229.4 591.5,225.8 607.7,197.5 609.9,192.5 616.2,169.5 618.2,154.5Z"/>
<path fill="#ff8000" d="M623.1,138.5 765.5,138.5 765.5,645.5 120.5,645.5 120.5,347 132.5,345.4 143.5,345.3 163.5,342.2 179.5,340.8 187.5,339.2 195.5,339.1 217.5,337.1 227.5,335.3 239.5,331.5 245.5,330.2 255.5,328.7 270.5,327.9 286.5,322.5 303.5,320 320.5,315.7 330.5,314.3 335.5,314.5 348.5,316.8 363.5,316.9 369.5,317.6 389.5,322.9 398.5,326.4 418.2,332.5 431.5,334.7 441.5,338.1 454.5,337.9 464.5,336.7 469.5,335.2 478.5,331 493.5,326.6 498.5,323.7 511.3,314.5 516.2,309.5 524.5,299.3 548.9,277.5 556.1,269.5 574.3,251.5 581.3,238.5 592.5,226.5 609.3,197.5 611.4,192.5 617.5,169.5 619.6,154.5Z"/>
<path fill="#ff8600" d="M624.2,138.5 765.5,138.5 765.5,645.5 120.5,645.5 120.5,347.9 133.5,346.3 142.5,346.2 152.2,344.5 178.5,341.8 187.5,340.4 196.5,340.3 207.5,339 218.5,338.3 228.5,336.4 244.5,331.7 256.5,330.1 269.5,329.5 286.5,323.9 305.5,321 321.5,316.8 331.5,315.6 336.5,316 348.5,318.3 364.5,318.4 370.5,319.2 387.5,324.2 397.5,328.1 415.1,333.5 421.5,335.1 430.5,336.3 440.5,339.8 460.5,339.3 464.5,338.7 468.5,337.4 478.5,332.2 494.5,327.5 513,314.5 517.8,309.5 525.9,299.5 550.5,277.5 556.5,270.5 575.5,251.9 581.9,239.5 590.5,230.5 593.5,226.6 606,204.5 610.6,197.5 612.5,193 618.4,170.5 620.8,154.5Z"/>
<path fill="#ff8d00" d="M625.3,138.5 765.5,138.5 765.5,645.5 120.5,645.5 120.5,349 133.5,347.4 142.5,347.2 152,345.5 186.5,341.7 196.5,341.6 208.5,340.1 219.5,339.5 229.6,337.5 245.5,333 255.5,331.6 269.5,331 287.5,325.1 305.5,322.4 320.5,318.4 331.5,317.2 336.5,317.5 347.5,319.9 365.5,320 371.5,320.8 406,332.5 420.5,336.4 430.5,337.8 437.5,340.6 440.5,341.1 448.5,340.4 460.5,340.5 464.5,339.9 468.7,338.5 478.5,333.2 494.5,328.6 513.2,315.5 518.5,310.2 526.5,300.2 550.7,278.5 557.6,270.5 576.1,252.5 582.9,239.5 593.5,227.9 606.4,205.5 611.5,197.7 613.4,193.5 616.5,183 619.4,170.5 621.9,154.5Z"/>
<path fill="#ff9300" d="M626.3,138.5 765.5,138.5 765.5,645.5 120.5,645.5 120.5,350.1 134.5,348.6 142.5,348.4 152.5,346.7 167.5,345.5 185.5,343.1 196.5,342.9 208.5,341.2 219.5,340.8 234.5,337.8 247.5,334 256.5,332.8 269.5,332.5 287.5,326.4 305.5,323.9 320.5,320 331.5,319 336.5,319.3 347.5,321.9 365.5,321.7 371.5,322.3 406.5,334.2 419.5,337.5 430.5,339.1 439.5,342.2 448.5,341.3 460.5,341.3 465.5,340.5 470.5,338.5 478.5,334 494.5,329.5 497.5,327.8 514.4,315.5 519.5,310.4 527.3,300.5 551.5,278.8 558.5,270.6 576.5,253.2 578.5,250.3 583.1,240.5 591.5,231.5 594.5,227.5 607.2,205.5 612.5,197.7 614.3,193.5 617.5,182.9 619.8,172.5Z"/>
<path fill="#ff9900" d="M627.3,138.5 765.5,138.5 765.5,645.5 120.5,645.5 120.5,351.3 142.5,349.8 152.5,348.1 166.5,347.4 186.5,344.3 196.5,344.3 208.5,342.4 219.5,342.1 236.5,338.9 244.5,336.1 250.5,334.8 256.5,334.1 268.5,334.1 287.5,327.8 306.5,325.2 320.5,321.6 330.5,320.9 335.5,321 347.5,324 366.5,323.4 371.5,323.9 405.8,335.5 419.5,338.7 429.5,340.1 436.5,342.7 439.5,343.2 448.5,342.1 458.5,342.1 464.5,341.4 470.2,339.5 478.5,334.7 494.5,330.3 497.5,328.7 511.8,318.5 516.6,314.5 520.5,310.5 527.5,301.3 542.5,287.4 551.5,279.8 558.5,271.5 565.2,265.5 578.5,251.6 583.2,241.5 594.5,228.5 607.4,206.5 614.5,195.5 619,180.5Z"/>
<path fill="#ffa000" d="M628.2,138.5 765.5,138.5 765.5,645.5 120.5,645.5 120.5,352.5 142.5,351.3 152.5,349.7 165.5,349.3 185.5,345.8 197.5,345.5 208.5,343.6 219.5,343.4 237.5,340.3 245.5,337.3 252.5,335.7 257.5,335.3 268.5,335.6 286.5,329.3 307.5,326.7 318.5,323.6 322.5,322.9 334.5,322.8 348.5,326.3 366.5,325.1 370.5,325.3 383.5,329.2 394.5,333.5 405.5,336.8 419.5,339.8 429.5,341.2 436.5,343.7 439.5,344.2 447.5,342.9 458.5,342.7 465.5,341.8 470.5,340.1 478.5,335.4 494.5,331 497.5,329.5 516.5,315.5 521.4,310.5 528.3,301.5 543.5,287.4 551.5,280.7 558.5,272.4 565.5,266 578.6,252.5 583.9,241.5 595.1,228.5 608.1,206.5 615.3,195.5 619.8,180.5Z"/>
<path fill="#ffa600" d="M629.2,138.5 765.5,138.5 765.5,645.5 120.5,645.5 120.5,353.7 141.5,352.9 151.5,351.5 165.5,351 186.5,347.1 198.5,346.7 209.5,344.8 219.5,344.7 229.5,342.8 238.5,341.8 247.5,338.1 253.5,336.8 258.5,336.5 265.5,337.2 269.5,336.8 286.5,330.7 307.5,328.5 318.5,325.2 322.5,324.5 334.5,324.7 345.5,327.9 349.5,328.5 366.5,326.8 370.5,327 383.5,330.8 394.5,335 405.5,338.2 428.5,342.1 438.5,345 447.5,343.7 457.5,343.4 465.5,342.3 471.1,340.5 479.5,335.7 494.5,331.8 497.5,330.2 504.5,324.8 512.7,319.5 518.6,314.5 522.4,310.5 529.3,301.5 544.3,287.5 551.6,281.5 559.2,272.5 565.9,266.5 579.3,252.5 584.5,241.7 595.5,228.8 608.1,207.5 613.9,199.5 616.1,195.5 620.7,180.5Z"/>
<path fill="#ffac00" d="M630.1,138.5 765.5,138.5 765.5,645.5 120.5,645.5 120.5,355 141.5,354.4 151.5,353.2 164.5,352.8 173.5,351.5 186.5,348.5 198.5,348.1 208.5,346.1 218.5,346.1 229.5,344.1 237.5,343.6 252.5,338.2 257.5,337.7 265.5,338.6 268.5,338.5 272.5,337.4 286.5,332.1 293.5,331.1 308.5,330.3 318.5,326.8 322.5,326.1 334.5,326.6 345.5,329.8 349.5,330.4 356.5,330.2 366.5,328.7 370.5,328.8 404.5,339.2 428.5,343.1 438.5,345.9 448.5,344.3 459.5,343.9 467,342.5 471.5,341 479.5,336.4 494.5,332.5 497.5,330.9 504.5,325.5 513.5,319.7 519.5,314.5 523.3,310.5 529.3,302.5 544.5,288.1 552.5,281.5 559.5,273.1 566.5,266.7 579.9,252.5 584.6,242.5 595.6,229.5 608.8,207.5 616.5,196.4 621.5,180.5Z"/>
<path fill="#ffb300" d="M631,138.5 765.5,138.5 765.5,645.5 120.5,645.5 120.5,356.3 131.5,355.7 141.5,356 151.5,354.9 161.5,354.8 175.5,352.7 187.5,349.9 198.5,349.4 208.5,347.5 218.5,347.6 229.5,345.5 238.5,345.1 241.5,344.3 249.3,340.5 253.5,339.3 257.5,339 265.5,340 269.5,339.7 286.7,333.5 293.5,332.6 308.5,332.5 318.9,328.5 323.5,327.7 334.5,328.3 345.5,331.6 350.5,332.3 356.5,332.1 366.5,330.5 370.5,330.7 384.5,334.5 395.5,338.3 404.4,340.5 427.5,344 438.5,346.8 448.5,345.1 458.5,344.6 468.5,342.7 472.5,341.2 479.5,337.1 495.5,332.7 505.5,325.5 513.5,320.5 520.5,314.5 530.3,302.5 545,288.5 553.4,281.5 559.9,273.5 566.5,267.5 580.5,252.5 585.3,242.5 595.5,230.4 609.4,207.5 617.2,196.5 622.6,179.5Z"/>
<path fill="#ffb900" d="M631.9,138.5 765.5,138.5 765.5,645.5 120.5,645.5 120.5,357.7 131.5,357 142.5,357.5 161.5,356.5 177.5,354 188.5,351.3 198.5,350.7 208.5,348.9 218.5,349 229.5,346.9 238.5,346.7 242.5,345.6 249.5,342.1 253.5,340.8 257.5,340.3 265.5,341.4 269.5,341.1 276.5,339.2 287.5,334.9 294.5,334.1 308.5,334.8 311.5,334 319.5,330.3 323.5,329.4 333.5,329.9 345.5,333.3 350.5,334.1 356.5,334 365.5,332.5 369.5,332.6 384.5,336.2 397.5,340.3 407.5,342.3 427.5,345 438.5,347.6 447.5,346 458.5,345.2 469.5,343 472.5,342 480.5,337.5 495.5,333.4 498.5,331.7 505.5,326.1 514.5,320.5 521.4,314.5 531.4,302.5 545.5,288.9 553.5,282.2 560.5,273.7 567.4,267.5 580.5,253.3 586,242.5 596,230.5 609.5,208.4 618,196.5 623.7,178.5Z"/>
<path fill="#ffc000" d="M632.7,138.5 765.5,138.5 765.5,645.5 120.5,645.5 120.5,359.1 130.5,358.4 142.5,358.9 161.5,358.1 178.5,355.5 190.5,352.6 198.5,352.1 208.5,350.4 218.5,350.5 229.5,348.4 238.5,348.2 242.5,347.2 250.5,343.4 254.5,342.1 257.5,341.8 265.5,342.7 269.7,342.5 277.5,340.7 286.5,336.9 291.5,335.9 296.5,336 304.5,337.3 308.5,337.2 312.5,336 320.5,332.1 325.5,331.1 333.5,331.6 345.5,335 350.5,335.7 356.5,335.9 365.5,334.5 369.5,334.7 385.5,338.2 397.5,341.7 426.5,345.8 435.5,348.2 438.5,348.5 447.5,346.8 457.5,345.9 470.5,343.3 473.5,342.2 480.5,338.3 495.5,334.2 498.5,332.4 505.5,326.8 514.5,321.3 522.4,314.5 531.5,303.4 545.8,289.5 553.5,283.1 560.6,274.5 567.5,268.2 581,253.5 586.6,242.5 596.5,230.6 610.1,208.5 617,199.5 618.8,196.5 625,176.5 627.4,162.5Z"/>
<path fill="#ffc600" d="M633.5,139.5 633.6,138.5 765.5,138.5 765.5,645.5 120.5,645.5 120.5,360.5 131.5,359.7 145.5,360.4 160.5,359.8 179.5,357.1 190.5,354.3 206.5,352 217.5,352.1 228.5,350 239.5,349.5 243.5,348.4 254.5,343.9 258.5,343.4 266.5,344.1 271.5,343.6 279.5,341.9 286.5,338.9 290.5,337.8 295.5,337.8 303.5,339.5 309.5,339.1 314.5,337.7 322.5,333.8 326.5,332.9 333.5,333.4 345.5,336.6 351.5,337.5 357.5,337.7 365.5,336.6 368.5,336.7 385.5,339.9 396.5,342.9 425.5,346.6 435.5,349 438.5,349.3 447.5,347.6 456.5,346.8 471.5,343.7 481.5,338.7 495.5,334.9 498.5,333.2 505.5,327.5 514.5,322.1 523.3,314.5 532.5,303.5 546.5,289.7 554.5,283 561.4,274.5 568,268.5 581.6,253.5 587.3,242.5 596.5,231.4 610.5,208.9 617.8,199.5 619.5,196.5 626.1,175.5 628.3,162.5Z"/>
<path fill="#ffcc00" d="M634.4,139.5 634.5,138.5 765.5,138.5 765.5,645.5 120.5,645.5 120.5,361.9 132.5,361 149.5,362.1 163.5,361.1 181.5,358.6 191.5,355.7 205.5,353.5 218.5,353.6 229.5,351.5 239.5,351 243.5,350 255.5,345.5 258.5,345.1 267.5,345.4 277.5,344.1 281.5,343.1 290.5,339.7 294.5,339.7 302.5,341.5 309.5,341 315.5,339.6 323.5,335.8 327.5,334.9 333.5,335.2 345.5,338.3 352.5,339.3 368.5,338.9 386.5,341.7 396.5,344.2 423.5,347.3 434.5,349.7 438.5,350.1 456.5,347.5 472.5,344.1 481.7,339.5 495.5,335.6 498.5,333.9 505.5,328.2 515,322.5 524.3,314.5 534.5,302.5 546.6,290.5 554.9,283.5 561.4,275.5 568.5,268.9 582.2,253.5 587.5,243.2 597,231.5 611.4,208.5 617.9,200.5 620.3,196.5 627.2,174.5 628.9,163.5Z"/>
<path fill="#ffd300" d="M635.4,138.5 765.5,138.5 765.5,645.5 120.5,645.5 120.5,363.3 131.5,362.4 149.5,364 159.5,363.2 181.5,360.4 192.5,357.1 205.5,354.9 218.5,355.1 229.5,353.1 240.5,352.2 257.5,346.9 267.5,346.7 278.6,345.5 290.5,341.7 293.5,341.6 302.5,343.3 312.5,342.2 317.5,341.1 324.5,337.9 328.5,336.9 333.5,337.2 345.5,340 352.5,341 357.5,341.3 366.5,340.9 384.5,343 396.5,345.5 421.5,348 438.5,350.9 455.5,348.4 464.5,346 473.4,344.5 483.5,339.7 495.5,336.3 498.5,334.7 506.2,328.5 515.5,322.9 525.3,314.5 535.6,302.5 547.5,290.6 555.5,283.8 561.5,276.3 568.8,269.5 582.8,253.5 588,243.5 596.9,232.5 611.5,209.3 618.6,200.5 621,196.5 628.4,173.5 629.8,163.5Z"/>
<path fill="#ffd900" d="M636.4,138.5 765.5,138.5 765.5,645.5 120.5,645.5 120.5,364.7 133.5,363.8 149.5,365.9 154.5,365.7 172.5,362.9 182.5,361.9 192.5,358.7 205.5,356.4 219.5,356.5 231.5,354.5 240.5,353.6 258.5,348.6 279.5,346.9 290.5,343.6 302.5,345 315.2,343.5 319.4,342.5 326.5,339.6 330.5,339 352.5,342.7 366.5,343 384.5,344.6 395.5,346.7 418.5,348.7 427.5,349.9 435.5,351.6 439.5,351.7 455.5,349.1 464.8,346.5 474.5,344.9 484.5,340.2 496.5,336.6 506.5,329 515.7,323.5 526.3,314.5 534.8,304.5 546.5,292.5 555.8,284.5 562.2,276.5 569.5,269.6 583.4,253.5 588.7,243.5 596.8,233.5 612,209.5 619.4,200.5 621.5,197 629.3,173.5 630.7,163.5Z"/>
<path fill="#ffdf00" d="M637.4,138.5 765.5,138.5 765.5,645.5 120.5,645.5 120.5,366.1 133.5,365.3 149.5,367.8 154.5,367.8 171.5,364.7 182.5,363.7 193.5,359.9 205.5,357.9 223.5,357.7 243.2,354.5 259.5,350.2 280.5,348.2 290.5,345.5 301.5,346.5 315.5,345.1 319.5,344.3 327.5,341.7 331.5,341.2 336.5,341.6 353.5,344.4 365.5,345 374.5,346 384.5,346.2 395.5,348 418.5,349.8 427.5,350.8 435.5,352.5 439.5,352.6 454.5,350.1 465.5,346.9 474.9,345.5 485.9,340.5 496.5,337.4 506.5,329.7 516.5,323.7 527.3,314.5 535.9,304.5 547.5,292.5 556.5,284.7 562.5,277.1 569.5,270.5 584,253.5 589.4,243.5 597.4,233.5 612.5,209.8 620.2,200.5 622,197.5 630.2,173.5 631.6,163.5Z"/>
<path fill="#ffe600" d="M638.4,139.5 638.6,138.5 765.5,138.5 765.5,645.5 120.5,645.5 120.5,367.4 134.5,367 149.5,369.6 154.5,369.7 165.5,367.3 181.5,365.5 193.5,361.4 205.5,359.5 224.5,359.2 234.5,357 243.5,355.8 260.5,351.8 280.5,349.7 289.5,347.5 304.5,347.7 318.5,346.2 332.5,343.3 337.5,343.5 350.5,345.7 372.5,347.9 384.5,347.8 394.5,349.3 419.5,351 435.5,353.3 439.5,353.4 454.5,351 465.5,347.4 476.5,345.8 487.5,340.7 496.5,338.1 506.5,330.4 516.5,324.4 528.2,314.5 547.5,293.5 556.5,285.7 562.5,278.1 570.5,270.3 584.6,253.5 590.1,243.5 598.5,232.7 613.3,209.5 620.5,201.1 622.7,197.5 631.2,173.5 632.5,163.5Z"/>
<path fill="#ffec00" d="M639.8,138.5 765.5,138.5 765.5,645.5 120.5,645.5 120.5,368.8 133.5,368.6 148.5,371.2 154.5,371.5 166.5,368.9 181.5,367.2 192.5,363.2 196.5,362.2 209.5,360.7 225.5,360.7 235.5,358.2 243.5,357.1 260.5,353.7 271.5,352 280.5,351.3 289.5,349.2 304.5,349.1 320.5,347.6 334.5,345.1 339.5,345.4 372.5,350 385.5,349.5 394.5,350.7 426.5,352.7 435.5,354.2 439.5,354.3 454.5,351.8 465.5,348 477.5,346.3 487.5,341.5 496.5,338.8 499.5,336.9 506.5,331.1 517.4,324.5 529.2,314.5 548.5,293.5 557.5,285.5 563,278.5 571.1,270.5 585.2,253.5 590.5,244 598.6,233.5 613.3,210.5 620.9,201.5 623.4,197.5 632.2,173.5 633.5,163.5Z"/>
<path fill="#fff200" d="M641.1,138.5 765.5,138.5 765.5,645.5 120.5,645.5 120.5,370.2 133.5,370.4 145.5,372.6 154.5,373.1 166.5,370.6 181.5,368.8 192.5,364.7 196.5,363.7 211.5,362.1 225.5,362.2 236.5,359.4 271.5,353.6 281.5,352.7 289.5,351 301.5,350.7 321.5,349.2 335.5,346.9 340.5,347.2 372.5,352.1 385.5,351.2 394.5,352.1 427.5,353.7 435.5,355.1 439.5,355.2 454.5,352.7 465.8,348.5 478.5,346.8 482,345.5 488.5,341.9 496.5,339.5 499.5,337.6 507.5,331.1 518.2,324.5 530.1,314.5 548.5,294.5 557.5,286.5 563.8,278.5 571.8,270.5 585.8,253.5 590.8,244.5 599.2,233.5 613.2,211.5 621.6,201.5 623.5,198.5 633.1,173.5 634.5,163.5Z"/>
<path fill="#fff900" d="M642.4,138.5 765.5,138.5 765.5,645.5 120.5,645.5 120.5,371.7 132.5,372.3 145.5,374.4 155.5,374.6 166.5,372.4 180.5,370.8 191.9,366.5 196.5,365.4 212.5,363.7 226.5,363.7 238.4,360.5 263.5,357 271.5,355.4 281.5,354.5 290.5,352.7 324.5,350.7 336.5,348.7 340.5,348.9 373.5,354.1 386.5,353.1 411.5,354.6 427.5,354.7 439.5,356.2 454.5,353.6 466.5,349 479.5,347.3 482.5,346.2 488.8,342.5 496.5,340.1 499.5,338.3 507.5,331.8 517.7,325.5 531,314.5 549.5,294.5 557.5,287.3 564.5,278.7 572.5,270.5 578.6,262.5 586.5,253.5 591.5,244.5 599.5,233.9 613.1,212.5 616.5,207.9 622.3,201.5 624.1,198.5 634.1,173.5 635.2,164.5 638,152.5Z"/>
<path fill="#ffff00" d="M643.4,139.5 643.6,138.5 765.5,138.5 765.5,645.5 120.5,645.5 120.5,373.4 132.5,374.5 143.5,376.2 155.5,376.3 179.5,373 191.5,368.5 196.5,367.3 213.5,365.4 227.5,365.2 237.5,362.2 247.5,360.4 263.5,358.9 290.5,354.6 314.5,352.7 325.5,352.5 336.5,350.5 341.5,350.8 374.5,356.1 387.5,354.9 412.5,356.2 427.5,355.7 438.5,357.3 454.5,354.5 466.5,349.6 476.9,348.5 482.5,347 489.5,343 498.5,339.6 507.5,332.4 518.5,325.5 530.5,315.7 549.5,295.5 558.1,287.5 564.5,279.5 572.5,271.4 579.3,262.5 586.4,254.5 592.2,244.5 599.5,234.8 613.7,212.5 622.5,202.1 624.5,198.9 628.4,188.5 635,173.5 636,165.5 638.9,152.5Z"/>
<path fill="#f2ff00" d="M644.8,138.5 765.5,138.5 765.5,645.5 120.5,645.5 120.5,376 145.5,378.6 154.5,378.3 164.5,376.9 175.5,376.1 180.5,375.1 193.5,370.4 214.5,367.6 228.5,366.9 238.5,363.9 249.5,361.7 263.5,361 291.5,356.5 314.5,354.5 325.5,354.3 336.5,352.4 354.5,354.5 375.5,358 387.5,356.6 411.5,357.7 426.5,356.8 436.5,358.2 440.5,358.3 455.5,355.2 466.5,350.3 478.5,348.9 483.3,347.5 489.5,343.7 498.5,340.2 507.5,333 520.5,324.5 531.5,315.5 550.4,295.5 558.5,287.9 565.3,279.5 573.1,271.5 579.9,262.5 587,254.5 592.5,245.2 600.5,234.2 612.9,214.5 624.7,199.5 629,188.5 635.6,174.5 636.9,165.5 639.8,152.5Z"/>
<path fill="#e5ff00" d="M645.9,138.5 765.5,138.5 765.5,645.5 120.5,645.5 120.5,380 145.5,381.6 163.5,379.6 175.5,379.1 180.5,377.9 192.5,373.6 229.5,368.9 249.5,363.5 264.5,363.1 291.5,358.9 314.5,356.6 324.5,356.4 335.5,354.6 355.5,356.3 375.5,359.7 388.5,358.4 411.5,359.3 426.5,357.9 436.5,359.3 440.5,359.4 447.5,358.2 456.5,355.8 466.5,351 478.5,349.5 483.5,348.2 489.5,344.5 498.5,340.8 508.5,332.8 519.8,325.5 531.1,316.5 558.7,288.5 565.5,280.1 573.7,271.5 580.5,262.5 587.6,254.5 593,245.5 600.5,235 612,216.5 617,209.5 623.5,202.3 625.5,199 629.5,188.6 636.4,174.5 637.8,165.5 640.9,151.5Z"/>
<path fill="#d9ff00" d="M646.9,138.5 765.5,138.5 765.5,645.5 120.5,645.5 120.5,384.1 146.5,384.7 163.5,382.4 175.5,382 191.5,376.8 211.5,374.3 221.5,372.2 231.5,370.8 249.5,365.6 264.5,365.5 307.5,359.5 324.5,358.4 334.5,356.7 356.5,358.1 376.5,361.4 387.5,360.3 398.5,361.2 410.5,360.9 420.5,359.4 426.5,359.1 436.5,360.5 441.5,360.5 446.5,359.6 457.5,356.4 467.5,351.5 479.5,350 484.4,348.5 490.5,344.7 498.5,341.4 508.5,333.4 520.4,325.5 531.7,316.5 559.3,288.5 565.8,280.5 574.4,271.5 581.1,262.5 588.3,254.5 593.6,245.5 602.5,232.8 611.2,218.5 616.8,210.5 623.5,203 625.7,199.5 629.7,189.5 637.3,174.5 641.7,151.5Z"/>
<path fill="#ccff00" d="M647.8,138.5 765.5,138.5 765.5,645.5 120.5,645.5 120.5,387.3 147.5,387.8 162.5,385.3 175.5,384.8 191.5,379.7 212.5,377 223.5,374.3 234.5,372.5 250.5,367.8 265.5,367.9 289.5,364.5 298.5,363.9 308.5,361.7 323.5,360.5 333.5,358.9 357.5,359.8 377.5,363.1 387.5,362.2 400.5,363.2 411.5,362.4 420.5,360.7 425.5,360.4 436.5,361.8 442.5,361.7 457.5,357.4 467.5,352.3 480.1,350.5 484.5,349.1 490.5,345.4 499,341.5 507.7,334.5 521,325.5 532.4,316.5 559.5,289 566.5,280.5 575,271.5 581.5,262.8 588.9,254.5 594.3,245.5 602.5,233.8 611,219.5 617.3,210.5 623.6,203.5 626.2,199.5 630.2,189.5 638,174.5 642.5,151.5Z"/>
<path fill="#bfff00" d="M648.7,138.5 765.5,138.5 765.5,645.5 120.5,645.5 120.5,390.3 148.5,391.1 162.5,388.2 175.5,387.6 192.5,382.2 209.5,380.4 224.5,376.5 241.5,373.3 250.5,370.6 264.5,370.6 288.5,367.5 298.5,366.9 308.5,364.1 323.5,362.6 332.5,361 345.5,361.6 357.5,361.4 376.5,364.7 386.5,364.1 397.5,365.3 410.5,364.1 422.5,361.8 428.5,361.8 436.5,363 442.5,362.9 446.5,362.1 458.5,357.9 468.5,352.8 480.5,351 484.5,349.8 490.5,346 498.5,342.4 509.7,333.5 521.6,325.5 532.9,316.5 559.5,289.7 566.5,281.2 575.5,271.7 581.5,263.5 589.5,254.5 595,245.5 602.6,234.5 611.5,219.5 617.9,210.5 624.5,203.1 626.5,199.8 630.7,189.5 638.8,174.5 643.3,151.5Z"/>
<path fill="#b2ff00" d="M649.4,139.5 649.7,138.5 765.5,138.5 765.5,645.5 120.5,645.5 120.5,393.5 150.5,394.3 161.5,391.6 177.5,390.3 194.5,384.8 207.5,383.6 225.5,378.8 241.5,376 250.5,373.9 263.5,373.4 287.5,370.2 299.5,369.6 309.5,366.5 331.5,363.1 345.5,363.5 358.5,363.2 375.5,366.4 386.5,366.1 396.5,367.3 409.5,365.8 422.5,363.1 436.5,364.2 443.5,364.1 459.5,358.5 468.5,353.6 480.5,351.6 484.5,350.4 491.5,346.1 499,342.5 510.3,333.5 522.1,325.5 533.5,316.5 547,303.5 559.5,290.4 566.9,281.5 575.4,272.5 582.5,263.1 589.4,255.5 603.2,234.5 612,219.5 617.6,211.5 624.5,203.7 626.6,200.5 631.2,189.5 639.5,174.5 642.7,160.5 644.1,151.5Z"/>
<path fill="#a6ff00" d="M650.3,139.5 650.6,138.5 765.5,138.5 765.5,645.5 120.5,645.5 120.5,396.9 136.5,396.7 147.5,397.9 151.5,397.8 160.5,395.5 178.5,393 194.5,388.2 206.5,386.6 229.6,380.5 249.5,377.5 258.5,377 285.5,372.8 300.5,372 311.5,368.7 331.5,365.1 345.5,365.4 358.5,364.9 375.5,368.1 385.5,367.9 396.5,369.2 408.5,367.6 421.5,364.5 443.5,365.3 446.5,364.6 459.5,359.4 468.5,354.5 481.5,351.9 485.5,350.5 499.5,342.7 510.9,333.5 522.6,325.5 533.5,317 547.5,303.7 559.5,291 567.5,281.5 576,272.5 582.8,263.5 590,255.5 603.2,235.5 612.5,219.5 627,200.5 631.5,190 640.2,174.5 643.5,160.5 644.8,151.5Z"/>
<path fill="#99ff00" d="M651.4,138.5 765.5,138.5 765.5,645.5 120.5,645.5 120.5,400.5 136.5,400 147.5,401.5 152.5,401.4 164.5,399.2 194.5,391.7 206.5,389.6 218.5,385.6 232.5,382.5 258.5,379.8 284.5,375.2 301.5,374.4 312.5,371.1 331.5,367.2 358.5,366.8 375.5,369.8 385.5,369.7 395.5,370.9 407.5,369.5 421.5,365.9 443.5,366.5 446.5,365.8 453.3,362.5 460.5,359.9 469.5,354.9 481.5,352.5 485.5,351.1 499.5,343.1 511.5,333.5 523.1,325.5 533.5,317.5 547.4,304.5 559.5,291.6 567.5,282.2 576.7,272.5 583.4,263.5 590.6,255.5 603.8,235.5 612.5,220.2 618.7,211.5 626.3,202.5 632.3,189.5 640.1,176.5 641.2,173.5 643.8,162.5 645.6,151.5Z"/>
<path fill="#8cff00" d="M652.3,138.5 765.5,138.5 765.5,645.5 120.5,645.5 120.5,403.8 136.2,403.5 147.5,405.4 152.5,405.4 165.5,402.9 174.5,399.3 186.5,396.3 207.2,392.5 219.5,387.8 233.5,384.7 260.5,381.9 283.5,377.5 303.5,376.6 313.5,373.6 332.5,369.3 358.5,368.7 375.5,371.4 385.5,371.4 396.5,372.4 406.5,371.4 420.5,367.4 444.5,367.4 461.2,360.5 469.5,355.8 485.5,351.6 499.5,343.6 512,333.5 523.6,325.5 534,317.5 548.1,304.5 558.5,293.4 567.8,282.5 577.3,272.5 584,263.5 590.5,256.4 603.7,236.5 612.7,220.5 619.2,211.5 626.7,202.5 632.5,190 640.7,176.5 641.9,173.5 644.6,162.5 646.3,151.5 647.9,147.5 651.8,140.5Z"/>
<path fill="#80ff00" d="M653.2,138.5 765.5,138.5 765.5,645.5 120.5,645.5 120.5,406.9 135.5,407 147.5,409.2 152.5,409.3 167.5,405.9 176.5,401.6 182.5,399.7 208.5,395.4 220.5,390 235.5,386.8 261.5,383.9 283.5,379.5 305.5,378.9 333,371.5 358.5,370.6 375.5,373.1 384.5,373 397.5,373.8 406.5,373 415.5,369.9 420.5,368.8 444.5,368.5 447.5,367.5 454.5,363.8 461.5,361.2 470.5,356.2 485.5,352.1 499.5,344 512.5,333.5 534.5,317.5 539.5,312.4 548.5,304.7 557.5,295.1 568.5,282.3 577.9,272.5 584.5,263.6 591,256.5 604.4,236.5 613.2,220.5 619.5,211.8 627.1,202.5 632.8,190.5 641.4,176.5 645.1,163.5 647.1,151.5 648.7,147.5 652.5,140.9Z"/>
<path fill="#73ff00" d="M654,138.5 765.5,138.5 765.5,645.5 120.5,645.5 120.5,409.8 136.5,410.5 148.5,412.7 153.5,412.6 169.5,408.8 178.5,403.8 183.5,402 209.5,398.4 213.5,396.9 221.5,392.6 229.5,391.2 236.5,389.2 262.5,385.9 282.5,381.6 295.5,381.2 306.5,381.4 329.5,374.8 335.5,373.7 358.5,372.5 376.5,374.8 401.5,375.1 406.8,374.5 415.5,371.3 420.5,370.2 444.5,369.5 447.5,368.5 454.5,364.7 462.5,361.6 470.5,357 485.8,352.5 499.5,344.5 513,333.5 532.6,319.5 539.5,312.9 547.2,306.5 577.7,273.5 584.5,264.4 591.5,256.6 605,236.5 613.5,220.8 627.5,202.5 633.3,190.5 641.5,177.5 643.3,173.5 645.5,164.7 647.8,151.5 649.5,147.5 653.1,141.5Z"/>
<path fill="#66ff00" d="M654.8,138.5 765.5,138.5 765.5,645.5 120.5,645.5 120.5,412.8 137.5,413.8 149.5,415.8 154.5,415.5 170.5,412.2 173.5,410.8 180.5,406 184.5,404.3 190.5,403.2 210.5,401.2 214.5,399.9 222.5,395.8 229.5,394.5 238.5,391.5 264.5,387.6 282.5,383.7 295.5,383.3 304.5,384 308.5,383.8 326.5,378.2 338.5,375.9 357.5,374.3 376.5,376.4 402.5,376.6 407.5,375.8 414.5,373 420.5,371.6 444.5,370.4 447.5,369.5 454.6,365.5 462.5,362.4 471.5,357.3 482.5,354.3 486.5,352.6 499.5,344.9 513.5,333.5 533.1,319.5 539.5,313.4 547.8,306.5 558.5,295.3 569.5,282.5 578.3,273.5 585,264.5 591.5,257.4 605.1,237.5 613.5,221.5 627.5,203.2 633.5,191.1 642.2,177.5 643.9,173.5 645.8,166.5 648.5,151.5 654,141.5Z"/>
<path fill="#59ff00" d="M655.6,138.5 765.5,138.5 765.5,645.5 120.5,645.5 120.5,416.2 135.5,416.7 151.5,418.6 168.5,416 174.5,414 182,408.5 186.5,406.7 195.5,405.3 210.5,404.1 222.5,399.8 230.5,397.7 240.5,393.9 266.5,389.5 282.5,385.8 295.5,385.5 305.5,386.4 310.5,386 326.5,380.8 352.5,376.2 361.5,376.3 376.5,378 402.5,378 406.5,377.5 414.5,374.4 421.5,372.8 444.5,371.4 447.5,370.4 455.5,365.9 462.5,363.2 471.5,358 486.5,353.1 499.5,345.4 513.9,333.5 533.5,319.6 540.5,312.9 548.5,306.5 558.5,295.9 569.5,283.1 578.9,273.5 585.5,264.6 591.9,257.5 605.7,237.5 614,221.5 627.7,203.5 633.8,191.5 642.8,177.5 644.5,173.5 646.4,166.5 649.3,151.5 654.8,141.5Z"/>
<path fill="#4cff00" d="M656.4,138.5 765.5,138.5 765.5,645.5 120.5,645.5 120.5,420.2 133.5,419.8 151.5,421.4 169.5,418.8 175.5,416.9 183.5,411.1 187.5,409.5 196.5,408 206.5,407.4 211.5,406.6 230.5,401.1 238.5,397.6 243.5,396 267.5,391.7 282.5,388 293.5,387.7 305.5,388.5 312.5,388.1 316.5,387.1 325.5,383.6 352.5,378 358.5,378 377.5,379.7 402.5,379.3 407.5,378.5 414.5,375.7 421.5,374 443.5,372.5 447.5,371.3 455.5,366.7 463.5,363.5 472.5,358.3 486.5,353.6 499.5,345.8 514.4,333.5 533.5,320 540.5,313.4 549,306.5 558.5,296.5 569.7,283.5 579.5,273.6 585.5,265.4 592.5,257.5 606.4,237.5 611.5,226.5 614.4,221.5 628.1,203.5 634.3,191.5 643.4,177.5 646.6,168.5 649.7,152.5 651.4,148.5 655.5,141.8Z"/>
<path fill="#40ff00" d="M657.1,138.5 765.5,138.5 765.5,645.5 120.5,645.5 120.5,424 134.5,423.2 151.5,424.3 170.5,421.7 176.5,419.7 184.5,414.1 187.5,412.8 197.5,410.8 212.5,409.2 230.5,404.3 239.5,400.3 245.5,398.3 268.5,394.1 283.5,390.1 289.5,389.8 303.5,390.5 314.5,389.9 326.5,385.8 335.5,384.2 352.5,379.8 378.5,381.4 402.5,380.6 407.5,379.8 415.5,376.7 422.5,375.1 443.5,373.4 447.5,372.2 455.5,367.5 463.5,364.3 472.5,359 486.5,354 499.5,346.3 514.9,333.5 533.5,320.4 540.5,313.8 549.5,306.6 558.5,297.2 570.5,283.2 579.5,274.3 586,265.5 592.5,258.2 606.5,238.5 613.6,223.5 627.8,204.5 634.9,191.5 643.5,178.4 645.4,174.5 647.2,168.5 650.4,152.5 655.9,142.5Z"/>
<path fill="#33ff00" d="M657.7,138.5 765.5,138.5 765.5,645.5 120.5,645.5 120.5,427.3 134.5,426.6 151.5,427.2 172.5,424.3 177.8,422.5 185.5,417.3 189.5,415.7 199.5,413.6 213.5,412 231.5,406.9 240.5,402.8 246.5,400.7 268.5,396.8 283.5,392.3 289.5,391.9 302.5,392.6 314.5,391.8 326.5,388 336.5,386.1 352.5,381.7 378.5,383 402.5,381.8 407.5,381 415.5,378 422.5,376.3 443.5,374.2 448.5,372.5 455.5,368.3 464.4,364.5 472.5,359.6 486.5,354.5 499.5,346.7 515.3,333.5 533.5,320.7 540.5,314.2 549.5,307.1 558.7,297.5 570.5,283.8 580,274.5 586.5,265.6 592.5,258.9 606.5,239.5 614.1,223.5 628.2,204.5 634.8,192.5 644.5,177.6 647.5,169.5 651.1,152.5 656.7,142.5Z"/>
<path fill="#26ff00" d="M658.3,138.5 765.5,138.5 765.5,645.5 120.5,645.5 120.5,430.5 151.5,430.2 174.5,426.7 179.5,425.1 187.5,420.2 191.5,418.7 201.5,416.5 213.5,415.2 232.5,409.4 247.5,403.1 252.5,401.9 268.5,399.7 283.5,394.5 289.5,394 301.5,394.6 316.5,393.2 353.5,383.6 364.5,384.6 379.5,384.6 403.5,382.8 408.5,381.9 416.5,378.9 422.5,377.4 443.5,375.1 448.5,373.4 455.5,369.1 463.8,365.5 473.5,359.8 487.3,354.5 499.5,347.1 515.7,333.5 533.5,321.1 540.7,314.5 549.5,307.5 559.3,297.5 570.5,284.4 580.5,274.6 586.5,266.4 592.5,259.5 607.2,239.5 614.5,223.5 628.5,204.6 635.5,192.3 644.6,178.5 648,169.5 651.5,153.4 657.4,142.5Z"/>
<path fill="#19ff00" d="M658.9,138.5 765.5,138.5 765.5,645.5 120.5,645.5 120.5,433.7 150.5,433.3 162.5,430.9 177.5,428.8 181.5,427.5 192.5,422.2 213.5,418.3 233.5,411.7 250.5,405 256.5,403.7 268.5,402.4 279.5,398 284.5,396.6 289.5,396.2 301.5,396.6 317.5,394.8 353.5,385.7 364.5,386.6 379.5,386.2 403.5,383.9 408.5,383 416.5,380.1 423.5,378.2 443.5,375.9 448.5,374.2 455.5,369.8 464.5,365.7 473.5,360.3 487.5,354.8 499.5,347.6 515.5,334 533.5,321.5 541.5,314.2 548.9,308.5 558.9,298.5 571.5,284 582,273.5 607.3,240.5 609.5,236.5 612.4,228.5 614.9,223.5 628.5,205.2 635.9,192.5 644.5,179.6 646.5,175.5 648.5,169.6 652.1,153.5 657.5,143.5Z"/>
<path fill="#0dff00" d="M659.4,138.5 765.5,138.5 765.5,645.5 120.5,645.5 120.5,437.3 126.5,437.1 134.5,437.9 150.5,436.3 164.5,433.1 179.5,431.2 193.5,425.6 213.5,421.4 253.5,407 269.5,404.6 284.5,398.9 289.5,398.4 301.5,398.5 318.5,396.4 353.5,387.9 363.5,388.6 379.5,387.8 403.5,384.9 409.5,383.7 423.5,379.2 443.5,376.7 449.3,374.5 456.5,370 464.2,366.5 473.5,360.8 487.5,355.2 499.5,348 515.5,334.4 533.5,321.8 541.5,314.6 549.4,308.5 559.4,298.5 571.5,284.6 582.5,273.6 607.9,240.5 610.1,236.5 612.8,228.5 614.8,224.5 628.7,205.5 636.5,192.5 644.5,180.5 648.5,171.2 652.7,153.5 658.5,142.6Z"/>
<path fill="#00ff00" d="M659.9,138.5 765.5,138.5 765.5,645.5 120.5,645.5 120.5,441.3 125.5,441.3 131.5,442.4 134.5,442.3 143.5,440.2 154.5,438.7 165.5,435.6 182.5,433.5 194.5,428.7 205.5,426.7 213.5,424.5 243.5,412.9 257.5,408.6 270.5,406.7 281.5,402 285.5,400.8 301.5,400.4 322.5,397.5 353.5,390.1 363.5,390.5 379.5,389.2 403.5,385.8 410,384.5 423.5,380.1 443.5,377.5 448.7,375.5 456.5,370.6 464.5,366.8 473.5,361.3 487.7,355.5 499.5,348.4 515.7,334.5 533.5,322.2 541.5,315 549.9,308.5 560,298.5 571.5,285.1 582.5,274.3 608.5,240.7 610.5,236.9 613.2,228.5 615.2,224.5 629,205.5 645.5,179.6 648.5,172.5 653,154.5 658.5,143.8Z"/>
<path fill="#00ff0d" d="M660.3,138.5 765.5,138.5 765.5,645.5 120.5,645.5 120.5,445.4 134.5,446.2 144.5,443.2 154.5,441.8 166.5,438.1 183.5,436.1 195.5,431.5 206.5,429.4 215.5,426.6 226.5,421.8 244.5,415.1 259.5,410.6 272.5,408.1 285.5,402.7 289.5,402.2 301.5,402.2 311.5,400.2 326.5,398.7 340.5,394.9 354.5,392.1 363.5,392.2 381.5,390.2 408.5,385.7 423.5,380.9 442.5,378.4 449.5,375.7 456.5,371.2 464.5,367.3 473.5,361.8 488.3,355.5 499.9,348.5 509.5,340.7 516.2,334.5 533.5,322.5 541.5,315.3 550.3,308.5 560.5,298.5 571.7,285.5 582.9,274.5 598.5,253.8 608.6,241.5 610.8,237.5 613.6,228.5 615.6,224.5 629.4,205.5 645.5,180.4 649.5,170.6 653.5,154.5 659.5,142.6Z"/>
<path fill="#00ff1a" d="M660.7,138.5 765.5,138.5 765.5,645.5 120.5,645.5 120.5,449.6 134.5,449.6 144.5,446.3 154.5,444.8 168.5,440.5 184.5,438.4 197.5,433.8 207.5,431.5 217.4,428.5 227.5,423.8 244.5,417.6 260.5,412.5 272.5,410 286.5,404.3 300.5,403.9 313.5,401.3 328.5,400.1 342.5,396.2 354.5,394.2 363.5,393.7 380.5,391.5 407.9,386.5 423.5,381.6 434.5,380.5 443.5,378.8 449.5,376.3 456.5,371.8 464.5,367.8 473.5,362.2 488.9,355.5 500.5,348.5 509.5,341.2 516.6,334.5 533.5,322.9 541.5,315.7 550.8,308.5 560.1,299.5 571.5,286.3 583.5,274.5 598.5,254.4 609.2,241.5 611.3,237.5 614,228.5 616,224.5 629.5,205.9 645.5,181.2 649.5,171.9 654,154.5 659.5,143.7Z"/>
<path fill="#00ff26" d="M661.1,138.5 765.5,138.5 765.5,645.5 120.5,645.5 120.5,453.6 135.5,452.7 145.5,449.5 156.5,447.6 169.5,443.1 185.5,440.7 200.5,435.5 218.6,430.5 231.5,424.6 260.5,414.6 274.5,411.2 287.5,405.9 299.5,405.7 313.5,402.7 330.5,401.5 343.5,397.9 380.5,392.5 409.5,386.7 423.5,382.3 433.5,381.3 443.5,379.3 449.5,376.9 457.5,371.7 464.5,368.2 473.5,362.7 485.9,357.5 496.5,351.5 509.5,341.6 518.3,333.5 534.5,322.4 541.5,316.1 551.2,308.5 558.6,301.5 571.9,286.5 582.5,276.4 598.9,254.5 607.7,244.5 611.5,238.5 614.1,229.5 616.4,224.5 630.1,205.5 643.5,185.2 647.3,178.5 649.6,172.5 654.1,155.5 659.6,144.5Z"/>
<path fill="#00ff33" d="M661.5,138.5 765.5,138.5 765.5,645.5 120.5,645.5 120.5,457.2 136.5,455.5 145.5,452.8 158.5,450.4 171.5,445.3 187.5,442.7 202.5,437.4 220.5,432.1 232.5,426.4 242.5,423.5 261.5,416.3 275.5,412.8 287.5,407.8 299.5,407.5 310.5,404.7 316.5,403.7 331.5,403.2 344.5,399.7 379.5,393.8 408.5,387.6 423.5,382.9 434.5,381.8 443.5,379.9 449.5,377.4 457.5,372.2 464.5,368.6 473.5,363 486.5,357.5 497.5,351.3 509.5,342 517.5,334.4 534.5,322.7 541.5,316.4 551.6,308.5 559.1,301.5 572.5,286.5 583,276.5 599.4,254.5 608.3,244.5 612,238.5 614.4,229.5 616.5,225 630.5,205.5 642.5,187.6 647.5,178.9 650.5,170.8 654.3,156.5 660.4,143.5Z"/>
<path fill="#00ff40" d="M661.8,138.5 765.5,138.5 765.5,645.5 120.5,645.5 120.5,460.8 134.5,458.8 145.5,455.8 157.5,453.8 162.5,452.2 171.5,448 183.5,446.2 189.5,444.8 203.5,439.5 221.5,433.9 233.5,428.1 244.5,425 259.5,418.9 266.5,416.7 277.5,414.3 288.5,409.7 299.5,409.4 310.5,406.2 316.5,405.1 328.5,405.2 333.5,404.6 344.5,401.8 355.5,400 409.5,387.9 422.5,383.7 434.5,382.4 443.5,380.5 450.2,377.5 457.5,372.7 473.5,363.4 486.5,357.9 497.5,351.7 509.5,342.5 517.9,334.5 534.5,323.1 542.5,315.9 552,308.5 559.6,301.5 572.5,287 583.5,276.6 599.5,254.9 608.5,245 612.5,238.5 614.8,229.5 616.6,225.5 637.7,195.5 647.5,179.7 650.5,171.9 654.7,156.5 660.5,144.1Z"/>
<path fill="#00ff4c" d="M662.1,138.5 765.5,138.5 765.5,645.5 120.5,645.5 120.5,464.5 135.5,461.4 146.5,458.2 159.5,456.1 172.5,450.5 181.5,449.2 190.5,447 205.5,441.2 221.5,435.9 234.5,429.8 245.5,426.7 260.5,420.4 267.5,418.3 279.5,416 289.5,411.8 300.5,411.2 310.5,407.8 316.5,406.6 329.5,406.7 337.5,405.6 356.5,401.6 369.5,397.9 409.5,388.4 422.5,384.3 434.5,383 443.5,381 449.5,378.4 473.5,363.8 486.5,358.2 497.5,352.1 509.5,342.9 518.3,334.5 534.5,323.4 560.1,301.5 572.5,287.6 583.5,277.2 599.5,255.4 608.7,245.5 612.9,238.5 615.2,229.5 617,225.5 638.2,195.5 647.5,180.4 650.5,172.9 655.1,156.5 660.5,145Z"/>
<path fill="#00ff59" d="M662.4,138.5 765.5,138.5 765.5,645.5 120.5,645.5 120.5,468.3 136.5,464 146.5,460.7 159.5,458.8 172.5,453.2 181.5,451.8 192.5,448.8 212.5,440.8 222.5,437.5 235.5,431.4 245.6,428.5 258.5,423 265.5,420.7 280.5,418.1 290.5,414.1 301.5,413.1 310.8,409.5 315.5,408.3 320.5,407.8 332.5,408 355.5,403.5 385.5,394.9 411.5,388.4 421.5,385.1 434.5,383.6 443.5,381.5 450.5,378.3 473.5,364.1 486.5,358.5 497.5,352.5 509.5,343.4 518.7,334.5 534.5,323.7 560.6,301.5 572.5,288.2 583.5,277.8 599.5,255.9 609.3,245.5 613.4,238.5 615.5,229.5 617.4,225.5 638.7,195.5 647.5,181.1 650.5,173.9 655.5,156.5 661.5,143.3Z"/>
<path fill="#00ff66" d="M662.7,138.5 765.5,138.5 765.5,645.5 120.5,645.5 120.5,471.7 147.5,462.8 159.5,461.3 172.5,456 181.5,454.5 193.5,450.8 212.5,442.9 223.5,439.2 236.5,433.1 246.5,430 263.5,423.1 269.5,421.8 280.5,420.3 291.5,416.4 301.5,415.1 311.5,411.1 316.5,409.7 320.5,409.3 332.5,409.5 342.5,407.9 355.5,405.1 385.5,395.8 411.5,389 421.5,385.7 434.5,384.2 443.5,382 450.5,378.8 473.5,364.5 486.5,358.8 498.5,352.2 510.5,343 518.5,335 533.5,324.8 561.1,301.5 572.5,288.7 583.5,278.4 599.5,256.5 609.5,246 613.5,239.3 615.9,229.5 617.7,225.5 639.3,195.5 647.7,181.5 650.5,174.8 655.9,156.5 661.5,144.2Z"/>
<path fill="#00ff73" d="M663,138.5 765.5,138.5 765.5,645.5 120.5,645.5 120.5,474.7 128.5,472.5 147.5,465.3 159.5,463.8 171.5,458.9 181.5,457 194.5,452.7 212.5,445 223.5,441.2 237.5,434.8 262.5,425.3 280.5,422.4 291.5,418.9 301.5,417.2 312.6,412.5 317.5,411.1 330.5,411.1 345.5,408.9 358.5,405.7 368.5,402.2 375.5,400.5 386.3,396.5 421.5,386.3 434.5,384.7 443.5,382.5 450.5,379.3 473.5,364.8 486.5,359.1 498.5,352.6 510.5,343.4 518.5,335.4 533.5,325.2 561.6,301.5 572.5,289.3 584,278.5 599.9,256.5 609.7,246.5 613.9,239.5 616.2,229.5 617.5,226.5 640.5,194.5 648.5,180.5 650.9,174.5 655.9,157.5 662.1,143.5Z"/>
<path fill="#00ff80" d="M663.3,138.5 765.5,138.5 765.5,645.5 120.5,645.5 120.5,477.8 127.5,475.9 148.5,467.6 160.5,466.1 171.5,461.3 182.5,459.1 193.5,455.4 203.5,451.5 213.5,446.6 223.5,443.3 238.5,436.5 261.5,427.5 281.5,424.2 300.5,419.3 317.5,412.7 330.5,412.5 345.6,410.5 375.5,401.7 386,397.5 420.5,387.1 434.5,385.3 443.5,383 450.5,379.8 473.5,365.1 486.5,359.4 498.5,353 510.5,343.9 518.7,335.5 533.5,325.5 562.1,301.5 572.5,289.9 584.5,278.5 600.3,256.5 610.2,246.5 614.5,239 616.3,230.5 617.9,226.5 640.3,195.5 648.5,181.2 651.2,174.5 655.9,158.5 662,144.5Z"/>
<path fill="#00ff8c" d="M663.6,138.5 765.5,138.5 765.5,645.5 120.5,645.5 120.5,481.1 127.5,479.2 148.5,470.3 160.5,468.6 171.5,463.7 183.5,461.1 192.5,458.2 204.5,453.6 214,448.5 224.5,445 237.5,438.9 260.5,429.6 287.5,424.7 303.5,420.2 317.5,414.4 329.5,414 346.5,411.8 375.5,402.9 386.5,398.3 420.5,387.7 434.5,385.8 443.5,383.5 450.5,380.3 473.5,365.4 486.5,359.7 498.5,353.4 510.5,344.3 519.2,335.5 532.5,326.6 562.5,301.5 573.4,289.5 584.5,279 600.5,256.8 610.5,246.9 614.7,239.5 616.7,230.5 618.3,226.5 633.5,204.9 640.8,195.5 648.5,181.9 651.1,175.5 656.2,158.5 662.4,144.5Z"/>
<path fill="#00ff99" d="M663.9,138.5 765.5,138.5 765.5,645.5 120.5,645.5 120.5,484.6 126.5,483.2 149.5,473 160.5,471.1 172.5,465.8 184.5,463.1 193.5,460.4 206.1,455.5 215.5,450.1 224.5,447.2 236.3,441.5 260.5,431.5 267.5,429.9 288.5,426.4 302.5,422.2 317.5,416.2 328.5,415.6 346.5,413.2 375.5,404 386.5,399.2 419.5,388.6 424.5,387.4 434.5,386.3 443.5,384 450.5,380.7 473.5,365.8 486.5,360 498.5,353.8 510.8,344.5 519.6,335.5 532.5,326.9 542.5,318.1 562.5,302 573.5,289.9 584.6,279.5 600.5,257.3 610.6,247.5 615.1,239.5 617,230.5 618.6,226.5 633.5,205.4 641.3,195.5 648.5,182.6 651.4,175.5 656.5,158.7 662.5,145Z"/>
<path fill="#00ffa6" d="M664.1,138.5 765.5,138.5 765.5,645.5 120.5,645.5 120.5,488.3 126.5,486.8 135.5,482 149.5,476.1 160.5,473.7 173.5,468 191.5,463.5 206.5,458.1 216.5,452.3 225.5,449.1 236.5,443.4 246.5,439.8 261.5,433.2 268.4,431.5 281.5,429.6 289.5,427.9 300.5,424.5 317.5,418.1 327.5,417.3 346.5,414.5 367.5,407.4 375.5,405.2 386.5,400.1 419.5,389.1 424.5,388 434.5,386.9 443.5,384.5 450.5,381.2 473.5,366.1 486.5,360.3 499.5,353.5 511.5,344.4 519.5,335.9 532.5,327.2 543.5,317.5 562.5,302.4 573.5,290.4 585,279.5 600.7,257.5 611.1,247.5 615.5,239.5 617.4,230.5 619,226.5 633.5,205.9 641.5,196 648.5,183.3 651.5,176 656.5,159.5 662.5,146 663.8,141.5Z"/>
<path fill="#00ffb3" d="M664.4,138.5 765.5,138.5 765.5,645.5 120.5,645.5 120.5,491.8 126.5,490.1 138.5,483.7 150.5,479.2 161.5,476.2 174.5,470.5 193.5,465.3 208.5,460.3 217.5,454.8 226.5,451.3 236.5,445.5 247.5,441.8 263.5,434.7 288.5,429.9 316.5,420.2 326.5,419.1 347.5,415.5 366.5,408.8 376.5,405.9 386.5,401.1 407.4,393.5 421.5,389.1 434.5,387.4 444.5,384.6 451.5,381.1 473.5,366.4 486.7,360.5 499.5,353.9 511.5,344.8 519.5,336.3 532.5,327.5 543.5,317.8 562.9,302.5 573.5,290.9 585.5,279.5 601.1,257.5 611.5,247.6 615.9,239.5 617.7,230.5 619.4,226.5 633.5,206.4 641.7,196.5 647.5,186 651.3,177.5 656.8,159.5 662.3,147.5 664.1,141.5Z"/>
<path fill="#00ffbf" d="M664.7,138.5 765.5,138.5 765.5,645.5 120.5,645.5 120.5,495.3 126.5,493.1 139.5,486.2 161.5,479.2 182.6,470.5 194.5,467.5 211.5,462 219.5,457.2 227.5,453.8 237.5,447.3 247.5,444.2 264.8,436.5 286.5,432.1 297.5,428.7 314.5,422.4 325.5,421 347.5,416.7 366.5,409.9 376.5,407 386.5,402 407.5,394.1 421.5,389.7 435.5,387.7 444.5,385.1 451.5,381.5 473.5,366.7 486.5,360.9 499.5,354.3 511.5,345.2 520.5,335.8 532.5,327.8 543.5,318.1 563.3,302.5 573.5,291.4 585.5,280 601.5,257.5 611.5,248.2 614.5,243.5 616.3,239.5 618.1,230.5 619.5,226.9 633.5,206.9 642.2,196.5 647.5,186.8 651.5,177.7 657.2,159.5 662.3,148.5 664.2,142.5Z"/>
<path fill="#00ffcc" d="M664.9,138.5 765.5,138.5 765.5,645.5 120.5,645.5 120.5,498.9 125.5,496.9 138.5,489.6 162.5,482 184.5,472.8 213.5,464 228.5,456.2 238.5,449.2 248.5,446.1 265.5,438.8 282.5,435 313.5,424.3 324.5,422.9 347.5,417.8 366.5,410.9 376.5,408 386.5,403 408.3,394.5 422.5,390.1 434.5,388.4 444.5,385.5 451.5,382 473.5,367 499.5,354.7 511.7,345.5 520.5,336.1 532.5,328.1 543.5,318.3 563.7,302.5 573.5,291.9 585.5,280.5 601.5,258 611.7,248.5 614.4,244.5 616.5,239.8 618.4,230.5 619.6,227.5 632.5,208.8 642.5,196.8 646.5,189.6 651.5,178.5 657.1,160.5 662.5,148.8 664.5,142.3Z"/>
<path fill="#00ffd9" d="M665.2,138.5 765.5,138.5 765.5,645.5 120.5,645.5 120.5,502.6 124.5,501.2 134.5,494.6 138.5,492.6 148.5,490.1 154.5,487.6 164.5,484.5 176.5,479.1 216.5,465.5 228.5,459 239.5,451.2 249.5,447.9 264.5,441.7 280.5,437.7 312.5,426.1 324.5,424.6 347.5,418.9 365.5,412.3 377.5,408.7 387.5,403.5 410.2,394.5 422.5,390.6 435.5,388.7 444.5,386 451.5,382.5 473.5,367.3 499.5,355.1 512.2,345.5 520.5,336.5 532.5,328.4 543.5,318.6 564.2,302.5 573.5,292.4 585.9,280.5 601.5,258.4 612.2,248.5 614.8,244.5 617,239.5 618.8,230.5 619.9,227.5 633.5,207.9 642.5,197.5 646.5,190.5 651.5,179.3 657.4,160.5 662.6,149.5 664.7,142.5Z"/>
<path fill="#00ffe6" d="M665.5,138.5 765.5,138.5 765.5,645.5 120.5,645.5 120.5,506.5 125.5,504.7 134.5,498.1 138.5,495.9 149.5,493.3 155.7,490.5 165.5,487.4 176.5,482 186.5,479 202.5,472.5 218.5,467.2 228.8,461.5 240.5,453.2 263.5,444.5 279.5,440.1 290.6,435.5 312.5,427.6 324.5,426.2 345.5,420.7 365.5,413.4 377.5,409.7 387.5,404.5 409.5,395.4 422.5,391.2 435.5,389.2 444.5,386.5 451.5,382.9 472.5,368.1 499.5,355.5 512.5,345.6 520.9,336.5 532.5,328.8 543.5,318.9 564.6,302.5 573.5,292.9 586.4,280.5 601.8,258.5 612.7,248.5 615.1,244.5 617.3,239.5 619.1,230.5 620.3,227.5 633.5,208.4 643,197.5 646.9,190.5 651.7,179.5 657.3,161.5 662.9,149.5 665,142.5Z"/>
<path fill="#00fff2" d="M665.7,138.5 765.5,138.5 765.5,645.5 120.5,645.5 120.5,510.9 123.5,510.1 126.5,508.4 135.5,501.4 139.5,499.1 151.5,496.3 157.5,493.6 165.5,490.9 176.5,485.1 188.5,481.7 202.5,475 220.5,468.7 229.5,463.6 240.5,455.7 244.5,453.7 264.5,446.4 278.5,442.7 291.5,436.8 311.4,429.5 315.5,428.6 324.5,427.7 343.5,422.7 365.5,414.5 377.5,410.8 389.5,404.6 408.5,396.5 417,393.5 424.5,391.3 436.5,389.4 445.5,386.5 452.5,382.7 472.5,368.4 496.5,357.6 500.5,355.2 512.5,346 520.5,337.1 532.5,329.1 543.5,319.1 565,302.5 573.5,293.3 586.5,280.8 602.2,258.5 613.1,248.5 617.5,240 619.5,230.5 620.7,227.5 633.5,208.9 643.5,197.5 646.8,191.5 652,179.5 657.5,161.8 663.2,149.5 665.3,142.5Z"/>
<path fill="#00ffff" d="M666,138.5 765.5,138.5 765.5,645.5 120.5,645.5 120.5,515.4 126.7,512.5 140.5,502.8 153.8,499.5 165.5,494.4 177.5,487.9 190.5,484.2 202.9,477.5 222.5,470 230.5,465.4 241.5,457.6 245.8,455.5 264.9,448.5 278.5,445 291.7,438.5 310.5,431.4 315.5,430.2 324.5,429.3 331.5,427 341.5,424.8 365.5,415.5 377.5,411.8 389.5,405.5 407.8,397.5 416,394.5 424.5,391.9 437.5,389.6 445.5,387 452.5,383.2 472.5,368.7 496.5,358 500.5,355.6 512.5,346.4 521.5,336.7 532.5,329.4 544.5,318.5 565.4,302.5 574.5,292.8 586.5,281.2 590.5,276.2 602.5,258.6 613.5,248.5 618,239.5 619.8,230.5 621.1,227.5 633.5,209.5 644,197.5 647.2,191.5 652.3,179.5 657.5,162.5 663.5,149.5 665.5,142.5Z"/>
<path fill="#00f2ff" d="M666.2,138.5 765.5,138.5 765.5,645.5 120.5,645.5 120.5,519.3 126.5,516.4 140.5,507.1 156.5,502.3 164.5,498.5 177.5,491.1 193.5,486.2 204.9,479.5 223.5,472 230.5,468 241.5,460.5 247.3,457.5 266.5,450.6 278.5,447.6 294.3,439.5 310.5,433.3 315.5,432 324.5,431 331.5,428.6 341.5,426.4 364.5,417 378.5,412.4 389.5,406.4 412.3,396.5 423.5,392.7 436.5,390.3 446.5,387 452.5,383.6 472.5,369 496.5,358.3 500.5,356 512.8,346.5 521.5,337 532.5,329.7 544.5,318.8 565.8,302.5 574.5,293.2 586.6,281.5 590.7,276.5 602.5,259 613.9,248.5 618.4,239.5 620.2,230.5 621.5,227.5 633.5,210 644.4,197.5 647.5,191.7 652.6,179.5 657.5,163.3 663.5,150.4 665.8,142.5Z"/>
<path fill="#00e5ff" d="M666.5,138.5 765.5,138.5 765.5,645.5 120.5,645.5 120.5,522.8 126.5,519.8 140.5,510.8 158.9,504.5 166.5,500.8 177.5,494.1 183.5,491.8 193.5,489.4 197.5,488 207.3,481.5 215.5,477.5 226.5,473.2 241.5,463.7 248.5,460.2 266.5,453.7 278.5,450.6 295.6,441.5 312.5,434.9 316.5,433.8 324.5,432.8 331.5,430.4 341.5,428.1 352.5,422.9 367.5,417 378.5,413.5 389.5,407.4 411.5,397.5 423.5,393.3 437.5,390.5 446.5,387.4 452.5,384.1 472.5,369.3 496.5,358.7 500.5,356.4 513.2,346.5 521.5,337.3 532.5,330 544.5,319 566.1,302.5 587,281.5 591,276.5 602.5,259.5 614.3,248.5 618.5,240.1 620.6,230.5 622,227.5 633.5,210.5 644.2,198.5 647.5,192.6 652.9,179.5 657.7,163.5 663.8,150.5 666.1,142.5Z"/>
<path fill="#00d9ff" d="M666.7,138.5 765.5,138.5 765.5,645.5 120.5,645.5 120.5,526.2 126.5,523.2 140.5,514.1 155.5,508.6 164.9,504.5 178.5,496.4 184.5,494.3 195.5,491.9 199.5,490.5 211.2,482.5 217.5,479.3 227.8,475.5 238.5,468.6 245.5,465 259.5,459.4 269.5,456.1 279.5,453.6 297.7,443.5 314.5,436.6 324.5,434.7 332.5,432 341.5,429.9 353.5,423.7 368.5,417.8 378.6,414.5 389.5,408.4 411.5,398.2 423.5,394 437.5,390.9 446.5,387.9 452.5,384.5 472.5,369.6 496.5,359 500.8,356.5 513.5,346.6 521.5,337.6 532.5,330.3 544.5,319.2 566.5,302.5 587.4,281.5 591.4,276.5 602.8,259.5 614.5,248.7 618.7,240.5 621,230.5 622.4,227.5 633.5,211 644.5,198.7 647.5,193.4 652.8,180.5 658,163.5 664.1,150.5 666.3,142.5Z"/>
<path fill="#00ccff" d="M667,138.5 765.5,138.5 765.5,645.5 120.5,645.5 120.5,529.4 127.5,526.2 141.5,516.8 168.4,505.5 178.5,499.3 201.5,492.7 215,483.5 219.5,481.4 229.5,477.8 238.5,471.6 243.5,469 269.5,459.1 281.5,455.9 294.5,448.4 309.5,442.2 316.5,438.6 341.5,431.8 352.4,425.5 369.5,418.5 379.5,415.1 389.3,409.5 411.5,399 423.8,394.5 438.5,391.1 447.5,387.8 452.5,385 472.5,369.9 497.5,358.9 501.5,356.4 513.5,347 521.5,338 532.5,330.6 544.5,319.5 566.9,302.5 588.6,280.5 604,258.5 614.5,249.2 619,240.5 621.4,230.5 622.5,228.1 633.5,211.5 644.3,199.5 647.5,194.3 653.1,180.5 657.9,164.5 664.4,150.5 666.6,142.5Z"/>
<path fill="#00bfff" d="M667.2,138.5 765.5,138.5 765.5,645.5 120.5,645.5 120.5,532.6 129.9,528.5 143.5,519 169.5,507.5 178.5,502.1 202.5,495.1 217.8,485.5 231.5,480.2 239.5,474.2 243.5,472 262.5,465.1 270.7,461.5 282.5,458.2 295.5,451 308.5,447.7 311.5,445.9 316.5,441.8 319.5,440.3 341.5,433.7 353.5,426.4 369.9,419.5 379.5,416.2 388.5,411 411.5,399.8 424.5,394.9 438.5,391.5 447.5,388.3 452.5,385.4 472.5,370.2 497.5,359.2 501.5,356.8 513.5,347.4 521.5,338.3 532.5,330.9 544.7,319.5 567.2,302.5 588.9,280.5 604.4,258.5 614.7,249.5 619.4,240.5 621.5,231.5 622.7,228.5 633.9,211.5 644.8,199.5 647.8,194.5 653.4,180.5 658.2,164.5 664.7,150.5 666.9,142.5Z"/>
<path fill="#00b2ff" d="M667.5,138.5 765.5,138.5 765.5,645.5 120.5,645.5 120.5,535.8 132.5,530.7 141.5,523.7 146.5,520.5 162.9,512.5 171.5,509 179.5,504.5 190.5,501.7 203.5,497.5 220.5,488 232.5,483.1 240.5,476.9 244.5,474.6 263.5,467.5 271.5,463.8 283.5,460.3 295.5,453.8 305.4,452.5 308.5,451.6 312.5,449.3 318.5,443.9 321.5,442 342.5,435.2 355.5,426.9 370.5,420.4 379.5,417.3 387.7,412.5 410.5,401 424.6,395.5 439.5,391.7 447.5,388.7 453.5,385.1 472.5,370.5 490.5,362.2 497.5,359.6 501.5,357.2 513.7,347.5 521.7,338.5 532.5,331.2 545,319.5 567.5,302.6 589.3,280.5 604.5,258.8 615,249.5 619.7,240.5 621.9,231.5 623.1,228.5 633.6,212.5 645.3,199.5 648.2,194.5 653.7,180.5 658.5,164.5 665,150.5 667.1,142.5Z"/>
<path fill="#00a6ff" d="M667.7,138.5 765.5,138.5 765.5,645.5 120.5,645.5 120.5,539.3 133.5,533.7 146.7,523.5 163.8,514.5 172.5,511.1 181.5,506.6 191.5,504.1 204.5,499.8 211.5,496 233.5,485.8 245.3,477.5 270.5,466.8 283.5,462.7 295.5,456.5 304.5,455.5 308.5,454.3 313.3,451.5 320.5,445.3 323.4,443.5 329.5,441.1 342.5,437.1 356.5,427.9 371.5,421.2 380.5,418 387.5,413.7 410.5,401.8 425.5,395.9 440.5,391.8 448.5,388.6 453.5,385.5 472.5,370.8 490.5,362.5 497.5,359.9 502.5,356.8 514.1,347.5 522.1,338.5 532.5,331.5 545.3,319.5 567.5,302.9 589.5,280.6 604.5,259.2 615.4,249.5 620,240.5 622.3,231.5 623.6,228.5 634.5,211.8 645.5,199.8 648.5,194.8 654,180.5 658.5,165.3 664.9,151.5 667.4,142.5Z"/>
<path fill="#0099ff" d="M668,138.5 765.5,138.5 765.5,645.5 120.5,645.5 120.5,543.1 122.5,542.7 134.5,536.6 147.5,526.3 165,516.5 182.5,509.1 205.5,502 228.5,491.5 237.5,486.5 246.3,480.5 269.5,469.8 283.5,465.2 295.5,459.3 303.5,458.3 307.5,457 313.7,453.5 324.5,445.2 343.5,438.4 347.5,436.2 357.5,428.9 372.5,422.1 380.5,419.2 387.5,414.9 396.5,410.7 410.5,402.7 425.5,396.5 440.5,392.2 448.5,389.1 453.5,386 463.7,377.5 472.5,371.1 490.5,362.8 497.5,360.2 502.5,357.2 514.5,347.5 522.5,338.5 532.5,331.9 545.5,319.6 567.5,303.3 589.5,281 604.6,259.5 615.8,249.5 620.4,240.5 622.7,231.5 624.1,228.5 634.5,212.3 645.5,200.4 648.6,195.5 654.3,180.5 658.7,165.5 665.2,151.5 667.6,142.5Z"/>
<path fill="#008cff" d="M668.2,138.5 765.5,138.5 765.5,645.5 120.5,645.5 120.5,547.2 123.5,546.5 135.5,539.4 141.2,535.5 149.5,528.5 156.5,524.9 166.5,518.6 184.4,511.5 204.5,505 224.5,496.4 248.5,483.1 269.5,472.2 281.5,468.6 295.5,462.2 303.5,460.7 306.5,459.6 314.5,455 325.5,446.7 344.5,439.8 349.5,436.8 358.5,430.1 372.5,423.3 381.5,419.9 388.5,415.5 397.5,411.4 410.7,403.5 425.5,397.2 441.5,392.3 449.5,389 453.5,386.4 464.2,377.5 472.5,371.4 490.5,363.1 497.6,360.5 503.5,356.8 514.5,347.9 522.5,338.9 532.5,332.2 545.5,319.8 567.6,303.5 589.5,281.4 605,259.5 616.1,249.5 620.7,240.5 623.2,231.5 624.6,228.5 634.8,212.5 645.9,200.5 649,195.5 654.6,180.5 658.7,166.5 665.5,151.5 667.9,142.5Z"/>
<path fill="#0080ff" d="M668.5,138.5 765.5,138.5 765.5,645.5 120.5,645.5 120.5,551.3 123.5,550.7 129.2,547.5 144,537.5 151.5,531.1 158.5,527.2 168.7,520.5 209.5,505.6 225.5,498.5 246.5,488 269.5,474.8 281.5,471.3 295.5,465 305.5,462.2 315.5,456.3 325.5,448.7 346.6,440.5 350.5,438.2 360.5,430.6 373.5,424.2 381.5,421.1 388.5,416.7 398.5,412.1 410.6,404.5 426.5,397.5 442.5,392.4 449.5,389.4 453.5,386.9 463.4,378.5 472.5,371.7 490.5,363.4 498.4,360.5 503.5,357.2 514.5,348.2 522.2,339.5 532.5,332.6 544.9,320.5 568,303.5 589.7,281.5 605.3,259.5 616.5,249.5 621.1,240.5 623.6,231.5 625.1,228.5 635.2,212.5 646.3,200.5 649.4,195.5 655,180.5 659,166.5 665.8,151.5 668.1,142.5Z"/>
<path fill="#0073ff" d="M668.7,138.5 765.5,138.5 765.5,645.5 120.5,645.5 120.5,555.3 123.5,554.6 131.5,550.1 139.5,543.7 147.5,539.1 153.9,533.5 171.5,522.1 186.5,517.2 193.5,513.9 212.5,507 247.5,490.7 269.9,477.5 282.5,473.7 296.4,467.5 305.5,464.4 315.5,458.3 326.5,450 333.5,447 342.5,444.1 348.5,441.3 352.5,438.8 361.5,431.6 373.5,425.5 381.5,422.3 389.5,417.4 398.2,413.5 410.6,405.5 426.5,398.2 442.5,392.8 450.2,389.5 472.5,372 491.1,363.5 498.5,360.8 504.5,356.9 514.5,348.6 521.5,340.5 532.5,332.9 545.2,320.5 568.3,303.5 590.1,281.5 605.5,259.7 616.8,249.5 621.4,240.5 624.1,231.5 625.5,228.5 635.5,212.7 646.8,200.5 649.5,196.2 654.9,181.5 659.3,166.5 666.1,151.5 668.4,142.5Z"/>
<path fill="#0066ff" d="M669,138.5 765.5,138.5 765.5,645.5 120.5,645.5 120.5,559 123.5,558.2 133.2,552.5 140.5,546.5 149.5,541.5 156.5,535.5 164.5,530.5 173.5,524 177.5,522.3 187.5,519.7 195.5,515.9 213.5,509.2 234.5,499.1 247.5,493.5 271.5,479.7 284.5,475.7 304.5,467.1 315.5,460.3 327,451.5 343.5,445.3 350.5,442 353.5,440.1 362.5,432.7 374.5,426.4 382.5,423 390.5,418.1 398.5,414.6 412.6,405.5 426.5,398.9 449.5,390.3 453.5,387.8 465.5,377.5 472.5,372.3 491.5,363.6 498.5,361.1 504.5,357.3 514.5,348.9 521.9,340.5 532.5,333.3 545.5,320.5 568.7,303.5 590.4,281.5 605.5,260.1 614.5,252.4 617.2,249.5 621.8,240.5 624.5,231.6 626.1,228.5 635.5,213.3 647.3,200.5 649.8,196.5 655.3,181.5 659.5,166.7 666.4,151.5 668.6,142.5Z"/>
<path fill="#0059ff" d="M669.3,138.5 765.5,138.5 765.5,645.5 120.5,645.5 120.5,562.3 123.5,561.5 133.5,555.5 142.5,548.7 151.4,543.5 158.5,537.6 166.5,532.6 175.5,526 179.5,524.4 188.5,522.2 196.5,518.5 210.5,513.2 234.5,501.7 248.5,495.7 272.5,482.2 288.5,477 303.5,470.1 315.5,462.5 327.5,453 344.5,446.4 352.5,442.6 363.5,433.7 374.8,427.5 382.5,424.2 390.5,419.3 399,415.5 414.7,405.5 426.8,399.5 450.5,390.2 472.5,372.7 490.5,364.4 498.5,361.4 505.5,356.9 515.3,348.5 522.5,340.3 533.5,332.8 544.6,321.5 569,303.5 589.9,282.5 605.6,260.5 614.8,252.5 617.5,249.6 622.1,240.5 625.5,230.5 634.5,215.5 638.2,210.5 647.7,200.5 650.2,196.5 655.6,181.5 659.5,167.6 666.7,151.5 668.9,142.5Z"/>
<path fill="#004cff" d="M669.5,139.5 669.5,138.5 765.5,138.5 765.5,645.5 120.5,645.5 120.5,565.2 124.5,564 132.5,559.5 143.5,551.5 152.5,545.9 160.5,539.4 177.5,528.2 189.5,524.7 210.5,516.1 222.5,509.8 250.1,497.5 273.5,484.5 290.5,479 303.5,472.9 315.5,464.9 327.5,454.8 353.5,443.6 364.8,434.5 375.5,428.5 383.5,424.8 390.5,420.5 399.5,416.4 411.3,408.5 422.1,402.5 450.5,390.7 454.5,387.9 465.3,378.5 472.5,373 491,364.5 499.5,361.3 506.5,356.6 515.5,348.7 522.5,340.7 533.5,333.2 544.9,321.5 569.4,303.5 590.2,282.5 606,260.5 617.5,250.1 622.1,241.5 626,230.5 634.9,215.5 638.5,210.8 648.2,200.5 650.6,196.5 655.9,181.5 659.5,168.5 666.7,152.5Z"/>
<path fill="#0040ff" d="M669.8,138.5 765.5,138.5 765.5,645.5 120.5,645.5 120.5,568.1 124.5,566.8 133,562.5 153.5,548.1 161.5,541.8 178.5,531 190.5,526.9 212.5,518 222.5,512.3 232,508.5 251.5,499.5 261.5,493.5 273.5,487.4 290.5,481.6 305.5,474.7 314.5,468.5 325.1,458.5 328.5,456 354.5,444.5 365.8,435.5 390.5,421.7 400.5,417 411.8,409.5 423.7,402.5 450.5,391.1 454.5,388.4 465.8,378.5 472.5,373.4 491.5,364.7 499.5,361.7 506.5,357.1 515.5,349.1 522.5,341.1 533.5,333.6 545.2,321.5 569.8,303.5 590.5,282.6 606.4,260.5 617.6,250.5 622.9,240.5 626.5,230.5 635.4,215.5 639.3,210.5 647.9,201.5 651,196.5 656.2,181.5 659.8,168.5 667,152.5 669.4,142.5Z"/>
<path fill="#0033ff" d="M670.1,138.5 765.5,138.5 765.5,645.5 120.5,645.5 120.5,571 124.5,569.7 134.5,564.8 162.5,544 179.5,533.6 214.5,519.6 224.5,513.9 233.5,510.4 252.5,501.8 265.5,494.1 275.5,489.5 286.5,485.9 309.1,475.5 315.5,470.8 325.3,460.5 329.2,457.5 355.5,445.4 365.5,437.4 375.5,431.1 384.5,426.6 391.5,422.3 401.7,417.5 423.5,403.4 451.5,391 467.5,377.5 473,373.5 491.5,365 499.5,362 507.5,356.7 515.5,349.5 522.6,341.5 533.5,334 545.5,321.5 570.1,303.5 590.5,283 606.5,260.8 618,250.5 622.9,241.5 627.1,230.5 635.9,215.5 639.5,210.8 648.4,201.5 651.4,196.5 656.6,181.5 660.5,167.6 667.3,152.5 669.7,142.5Z"/>
<path fill="#0026ff" d="M670.3,138.5 765.5,138.5 765.5,645.5 120.5,645.5 120.5,574.4 124.5,573.1 135.5,567.4 163.5,546.3 181.5,535.6 208.5,524 215.6,521.5 226.5,515.5 236.5,511.7 253.5,504.1 265.5,496.8 275.5,492.6 285.5,489.3 299.5,481.8 311.9,476.5 317.5,472.1 325.5,462.7 329.5,459.3 356.5,446.2 366.5,438.4 377,431.5 392.5,422.9 402.5,418.2 424.9,403.5 451.5,391.5 454.5,389.4 468,377.5 473.5,373.7 491.5,365.4 498.5,362.9 503.5,360.1 513.5,351.9 523.1,341.5 533.5,334.4 545.9,321.5 569.5,304.4 590.5,283.4 606.5,261.3 618.4,250.5 623.3,241.5 627.5,230.8 636.4,215.5 650.3,199.5 653.5,192.5 660.5,168.6 667.6,152.5 670,142.5Z"/>
<path fill="#0019ff" d="M670.6,138.5 765.5,138.5 765.5,645.5 120.5,645.5 120.5,578.4 124.5,577.2 136.5,569.8 164.5,548.5 181.6,538.5 193.5,532.5 217.5,522.8 228.5,517.1 238.5,513.5 252.5,507.3 265.5,499.6 284.5,493 299.5,483.7 313.5,477.9 319.5,473.1 326.5,464.2 330.5,460.9 358.4,446.5 377.6,432.5 392.5,424.1 405.8,417.5 424.7,404.5 436.6,398.5 451.5,392 455.5,389.1 467.3,378.5 472.8,374.5 492.3,365.5 499.5,362.8 504.5,359.8 512.5,353.3 523.5,341.6 533.9,334.5 541.9,325.5 546.2,321.5 569.8,304.5 590.5,283.8 600.5,269.5 607.5,260.7 618.9,250.5 623.7,241.5 627.7,231.5 637,215.5 650.8,199.5 653.9,192.5 660.5,169.6 667.9,152.5 670.2,142.5Z"/>
<path fill="#000dff" d="M670.9,138.5 765.5,138.5 765.5,645.5 120.5,645.5 120.5,582.4 123.5,581.9 126.5,580.1 147.5,565.3 165.9,550.5 193.5,534.9 218.5,524.5 229.5,519.1 238.5,516 252.5,510 265.5,502.4 283.5,496.6 287.5,494.4 293.5,489.5 299.5,485.5 310.3,481.5 315.5,478.8 321.5,473.9 328,465.5 331.5,462.6 359.5,447.3 378.5,433.3 392.5,425.2 401.5,421.1 409.5,416.5 425.5,405 435.9,399.5 452.5,391.9 467.9,378.5 473.5,374.6 492.5,365.9 499.5,363.2 505.7,359.5 512.5,353.8 523.5,342.1 534.5,334.4 542.3,325.5 546.5,321.6 570.2,304.5 590.5,284.3 601.5,268.6 607.5,261.3 618.6,251.5 624.2,241.5 628.5,231.2 637.5,215.5 651.3,199.5 654.4,192.5 660.6,170.5 667.9,153.5 670.3,143.5Z"/>
<path fill="#0000ff" d="M671.2,138.5 765.5,138.5 765.5,645.5 120.5,645.5 120.5,586.7 122.5,586.4 125.5,584.8 140.4,573.5 149.5,567.8 158.5,559.5 166.5,553.5 186.5,542.9 195.9,536.5 230.5,521.2 253.5,512.3 265.5,505.1 282.5,500.4 287.5,497.3 295.1,490.5 299.4,487.5 312.2,482.5 317.5,479.7 323.5,474.7 329,467.5 331.5,465.1 343.6,457.5 362.5,446.9 380.4,433.5 392.5,426.4 402.5,421.8 410.5,417.2 416.5,413.2 426.5,405.4 437.3,399.5 452.5,392.4 467.4,379.5 472.8,375.5 492.1,366.5 499.5,363.6 506.5,359.4 511.5,355.4 523.5,342.6 534.5,335 545.8,322.5 570.7,304.5 590.7,284.5 601.5,269.2 607.5,261.8 619.1,251.5 624.2,242.5 629,231.5 638.1,215.5 651.2,200.5 654.8,192.5 661.5,169.2 668.3,153.5 670.8,142.5Z"/>
<path fill="#0700f8" d="M671.5,138.5 765.5,138.5 765.5,645.5 120.5,645.5 120.5,592.4 127.5,589.1 142.5,577.5 153.5,571.1 166.5,560.4 177.5,555.1 194.5,543.9 204.5,538.7 209.4,533.5 212.3,531.5 254.5,514.7 267.5,507 283.5,502.9 287.5,500.1 295.5,492.5 299.5,489.4 313.5,483.7 319.5,480.5 324.5,476.5 330.5,469.1 333.2,466.5 344.5,458.8 365.7,446.5 381.1,434.5 393.5,427.1 402.5,423 412.2,417.5 428,405.5 438.8,399.5 452.5,393 466.9,380.5 472.5,376.3 493.3,366.5 499.5,364.1 507.5,359.3 512.5,355 523.5,343.1 534.5,335.5 542.1,326.5 546.2,322.5 571.1,304.5 591.1,284.5 601.5,269.7 607.5,262.4 611.3,258.5 619.6,251.5 624.7,242.5 629.5,231.7 638.5,216 651.8,200.5 655,193.5 661.5,170.3 668.7,153.5 671.1,142.5Z"/>
<path fill="#0f00f0" d="M671.9,138.5 765.5,138.5 765.5,645.5 120.5,645.5 120.5,598.6 135.9,592.5 149.5,581.5 168.5,569.9 185.1,562.5 189.5,559.5 196.2,553.5 203.5,550.3 206.5,547.1 210.5,537.5 213.5,534.2 227.5,529 246.5,520.5 256.5,517 268.5,509.3 284.5,504.8 287.8,502.5 295.5,494.9 299.7,491.5 315.6,484.5 321.5,481.2 326.2,477.5 332.5,469.9 336.4,466.5 344.8,460.5 369.8,445.5 382.5,435.1 393.5,428.5 402.5,424.3 412.6,418.5 418.5,414.4 426.5,407.6 434.9,402.5 453.5,393 467.5,380.6 472.5,376.9 500.5,364.1 508,359.5 512.5,355.7 523.5,343.6 535.1,335.5 542.5,326.5 546.6,322.5 571.5,304.5 590.7,285.5 601.5,270.3 608.5,262 620.2,251.5 625.2,242.5 629.8,232.5 639.5,215.5 652.3,200.5 655.8,192.5 661.5,171.6 669.1,153.5Z"/>
<path fill="#1600e9" d="M672.2,138.5 765.5,138.5 765.5,645.5 120.5,645.5 120.5,606.4 126.5,603.6 139.5,599.2 143.5,596.6 150.5,590.7 163.5,583.3 170.6,578.5 174.5,576.7 186.5,572.9 199.5,564.5 202.5,561.7 205.5,557.1 208.5,550.7 212.2,540.5 214.5,537.4 227.5,532.6 246.5,523.5 257.5,520.2 260.5,518.5 266.5,513.4 270.5,511.1 282.5,507.8 285.5,506.5 288.5,504.4 296.5,496.5 300.5,493.4 318.5,484.9 324.5,481.3 327.7,478.5 334.7,470.5 341.8,464.5 372.5,445.6 384.1,435.5 393.5,429.8 402.5,425.6 412.5,419.7 418.7,415.5 430,406.5 441.6,399.5 453.5,393.6 467.5,381.3 472.5,377.6 499.5,365.1 507.5,360.4 512.5,356.4 523.5,344.2 535.5,335.7 542.9,326.5 547.1,322.5 572,304.5 591.1,285.5 601.5,270.9 607.5,263.8 612.6,258.5 620.5,251.9 625.8,242.5 630.5,232.6 639.6,216.5 642.5,212.5 649.5,205.1 652.5,201.2 656,193.5 661.7,172.5 669.1,154.5 671.8,142.5Z"/>
<path fill="#1d00e1" d="M672.6,138.5 765.5,138.5 765.5,645.5 120.5,645.5 120.5,610.9 130.5,610.9 136.5,609.4 142.4,606.5 172.5,589.1 177.5,587 187,584.5 197.3,578.5 200.5,575.4 202.5,572.1 213.5,544 216.1,540.5 227.5,536.4 244.5,527.5 259.5,522.8 270.5,513.8 273.5,512.4 282.5,509.9 286.5,508.1 301.5,495.2 324.5,483.3 328.1,480.5 335.5,472.3 343.2,465.5 373.5,446.9 381.5,439.2 385.5,436.1 393.5,431.3 402.5,427 413.2,420.5 434.9,404.5 443,399.5 453.5,394.2 468.2,381.5 472.5,378.4 484.5,373.1 500.5,365.1 509.5,359.6 513.5,356 523.5,344.8 535.5,336.3 542.5,327.5 546.4,323.5 572.5,304.5 591.5,285.6 601.5,271.6 606.5,265.6 612.5,259.3 620.7,252.5 640.5,216.4 652.9,201.5 656.6,193.5 662.2,172.5 669.6,154.5Z"/>
<path fill="#2500da" d="M673,138.5 765.5,138.5 765.5,645.5 120.5,645.5 120.5,613.2 131.5,614.8 135.5,614.2 157.5,602.5 170.5,594.8 177.5,592 187.5,589.5 199.9,582.5 202.1,580.5 203.5,578 213.5,549.8 215.5,545.8 217.5,543.7 227.6,540.5 239.1,533.5 244.5,530.9 260.5,525.4 263.5,523.5 272.5,515.6 286.5,510.3 303.3,496.5 310.1,492.5 325.5,484.7 329.5,481.5 336.5,473.9 344.5,466.7 355.5,460.3 365.2,453.5 374.5,448.1 382.5,440.1 387.2,436.5 393.9,432.5 403.5,427.8 417.8,418.5 438,403.5 444.3,399.5 454.5,394.2 472,379.5 486.5,373 501.5,365.2 509.5,360.3 513.5,356.8 523.5,345.5 536,336.5 543.1,327.5 547,323.5 572.5,304.9 583.5,293.5 591.5,286.1 601.5,272.2 606.5,266.3 613.1,259.5 621.4,252.5 641.3,216.5 653,202.5 656.8,194.5 662.4,173.5 669.7,155.5Z"/>
<path fill="#2c00d3" d="M673.3,138.5 765.5,138.5 765.5,645.5 120.5,645.5 120.5,615.1 131.5,617 135.5,616.3 171.5,596.3 177.5,593.9 189.5,590.5 202.5,583.6 204.5,581.5 205.5,579.5 214.8,552.5 216.5,549.2 218.5,547.1 229.5,543.9 243.5,535 261.5,527.9 265.5,525.1 273.5,518 276.5,516.4 286.5,512.6 307.1,496.5 326.5,486 345.5,468.2 356.5,461.8 366.3,454.5 375.5,449.1 383.5,441.1 388,437.5 403.5,429.2 419.4,418.5 442.4,401.5 454.5,394.8 471.8,380.5 486.5,374 502.5,365.3 510.5,360.2 513.6,357.5 523.5,346.2 536.5,336.8 543.6,327.5 547.5,323.5 572.5,305.4 583.5,293.9 591.7,286.5 602.5,271.6 606.5,267 613.9,259.5 621.5,253.3 626.8,244.5 631.5,235 637.6,225.5 642.2,216.5 653.5,202.8 657.4,194.5 662.7,174.5 670.2,155.5Z"/>
<path fill="#3300cb" d="M673.7,138.5 765.5,138.5 765.5,645.5 120.5,645.5 120.5,616.9 131.5,618.7 136.5,617.5 147.5,610.9 172.5,597.5 177.5,595.4 189.5,591.8 204.6,584.5 206.5,582.5 207.5,580.5 216,555.5 217.5,552.6 219.5,550.5 227.5,548.9 231.5,547.3 244.5,538.4 257.5,533 263.5,529.9 276.5,519.1 285.5,515.5 288.5,513.8 309.3,497.5 327.5,487.3 347.1,469.5 357.5,463.2 367.3,455.5 376.5,450 384.5,442 388.5,438.7 403.5,430.6 420.9,418.5 443.7,401.5 455.5,394.8 471.7,381.5 487.5,374.4 510.5,360.9 514.4,357.5 523.9,346.5 536.5,337.5 544.2,327.5 548.1,323.5 573.5,304.9 583.5,294.4 592.2,286.5 602.5,272.4 606.5,267.8 614.5,259.8 622.1,253.5 627.5,244.5 632,235.5 638,226.5 643.1,216.5 653.8,203.5 658,194.5 663.3,174.5 667.3,165.5 670.4,156.5Z"/>
<path fill="#3b00c4" d="M674.2,138.5 765.5,138.5 765.5,645.5 120.5,645.5 120.5,618.6 130.5,620.3 135.5,619.3 140.5,616.9 148.5,611.7 173.5,598.5 189.5,593 206.3,585.5 209,582.5 217.1,559.5 218.5,556.4 220.5,554.1 230.5,551.9 245.5,541.7 264.5,533.1 276.5,522.2 288.5,516.4 299.5,508.5 311.6,498.5 328.5,488.7 338.5,479.4 349.2,470.5 357.5,465.1 367.5,457 378,450.5 385.5,442.9 389.5,439.7 404.5,431.3 430.7,412.5 444.5,401.8 456.5,394.8 471.7,382.5 475.5,380.4 488.5,374.8 510.7,361.5 514.5,358.3 524.5,346.7 537.2,337.5 544.5,327.9 547.7,324.5 552.5,320.5 573.4,305.5 583.5,294.8 592.5,286.7 602.5,273.1 606.5,268.5 614.6,260.5 622.5,254 627.7,245.5 632.5,236 639.1,226.5 644,216.5 654.5,203.5 658.6,194.5 663.6,175.5 667.6,166.5 670.6,157.5Z"/>
<path fill="#4200bc" d="M674.6,138.5 765.5,138.5 765.5,645.5 120.5,645.5 120.5,620.2 130.5,621.8 135.5,620.5 140.5,618.2 148.5,613 168.5,602.3 177.5,598.2 189.5,594.2 204.5,588.2 208.5,586.1 210.3,584.5 211.4,582.5 218.5,563.1 221.5,557.9 223.5,556.9 228.5,555.9 232.3,554.5 246.5,545 266.5,535.9 277.8,524.5 280.9,522.5 288.5,518.9 299.9,511.5 313.9,499.5 329,490.5 339.5,480.8 358.5,466.3 366.5,459.4 378.7,451.5 389.5,441.3 404.5,432.6 411.5,427.1 432.3,412.5 444.8,402.5 456.5,395.5 471.5,383.6 476.5,380.9 488.5,375.8 511.7,361.5 515.1,358.5 524.5,347.5 534.5,340.6 538,337.5 544.6,328.5 548.3,324.5 573.9,305.5 583.5,295.3 592.5,287.3 602.5,273.9 606.5,269.3 615.5,260.6 622.9,254.5 628.4,245.5 633,236.5 639.5,227.5 645.6,215.5 654.7,204.5 658.9,195.5 664.2,175.5 669.4,163.5 672.1,153.5Z"/>
<path fill="#4a00b5" d="M675,138.5 765.5,138.5 765.5,645.5 120.5,645.5 120.5,621.8 129.5,623.3 134.5,622.1 141.5,618.9 149.5,613.7 167.5,604.2 179.5,598.9 205.5,589.3 210.9,586.5 213.3,583.5 216.2,575.5 221.1,564.5 223.5,560.8 233.5,557.1 249.5,547.1 268.3,538.5 279.5,526.5 303.5,512.2 315.5,501 330.5,491.6 339.5,483 352.5,473.3 367.5,460.2 379.5,452.4 390.3,442.5 404.5,434 413.8,426.5 433.5,412.8 445.5,402.9 456.5,396.2 471.5,384.6 476.5,381.8 489.5,376.1 512.5,361.6 515.9,358.5 524.5,348.2 534.5,341.2 538.5,337.8 545.3,328.5 549.1,324.5 574.5,305.5 583.7,295.5 592.5,287.9 606.5,270 623.5,254.7 628.6,246.5 633.5,237 640.6,227.5 646.6,215.5 655.5,204.5 659.9,194.5 664.9,175.5 669.8,164.5 672.6,153.5Z"/>
<path fill="#5100ae" d="M675.5,138.5 765.5,138.5 765.5,645.5 120.5,645.5 120.5,623.4 129.5,624.7 133.5,623.8 141.5,620.1 149.5,615 157.5,611.2 166.5,606.1 181.5,599.6 205.5,590.8 212.6,587.5 215.3,584.5 223.6,566.5 225.5,563.7 236.5,558.7 248.5,551 256.5,546.6 266.8,542.5 270.3,540.5 281.5,528.1 305.5,513.8 317,502.5 331.5,493.1 340.5,484.4 353.5,475.1 367.5,461.9 379.5,453.9 390.5,444.1 404.5,435.4 415.3,426.5 434.5,413.2 445.8,403.5 456.5,396.9 471.5,385.6 476.5,382.8 489.5,377 513.5,361.5 516.5,358.7 524.5,349 538.5,338.5 545.9,328.5 549.8,324.5 574.5,306 584.5,295.2 592.5,288.5 606.5,270.8 623.7,255.5 629.3,246.5 634,237.5 641,228.5 647.5,215.5 655.6,205.5 660.2,195.5 665.2,176.5 670.3,165.5 672.9,154.5Z"/>
<path fill="#5800a6" d="M675.9,138.5 765.5,138.5 765.5,645.5 120.5,645.5 120.5,625 128.5,626 133.5,625 142.5,620.7 150.5,615.8 158.5,612.1 166.5,607.5 183.5,600.2 205.5,592.2 215.5,587.8 217.5,585.5 225.5,569.5 227.8,566.5 240.5,559.7 249.5,553.5 256.5,549.6 271.5,543 274.5,540.4 280.5,532.6 283.5,529.8 306.5,516 319.1,503.5 332.5,494.8 342.1,485.5 354.5,476.8 369.5,461.8 379.5,455.3 391,445.5 404.5,436.7 416.7,426.5 434.5,414.3 447,403.5 456.5,397.6 471.5,386.7 490.5,377.3 515.5,360.6 524.8,349.5 539.3,338.5 546.5,328.6 549.5,325.4 572.1,308.5 576.5,304.6 584.5,295.7 593.1,288.5 606.5,271.6 624.5,255.4 630,246.5 634.5,238 642,228.5 648.5,215.5 655.8,206.5 659.3,199.5 661.2,194.5 665.5,177.5 671,165.5 673.4,154.5Z"/>
<path fill="#60009f" d="M676.4,138.5 765.5,138.5 765.5,645.5 120.5,645.5 120.5,626.7 128.5,627.4 133.5,626.2 143.3,621.5 151.5,616.7 158.7,613.5 167.5,608.4 175.4,605.5 185.5,600.8 204.5,594 218.1,588.5 219.8,586.5 227.5,571.9 229.5,569.5 242.5,561.9 251.5,555.4 273.5,545 276.5,542.3 284.5,532.5 290.3,528.5 302.5,521.7 307.5,518.1 320.5,505 334.5,495.9 344.2,486.5 355.5,478.3 365.2,467.5 370.5,462.6 379.9,456.5 391.5,446.9 405.5,437.3 418.1,426.5 435.6,414.5 447.5,404 456.5,398.2 467.5,390.2 475.5,385.4 490.5,378.2 515.5,361.3 525.5,349.6 535.5,342.5 540,338.5 546.5,329.5 550.2,325.5 573.9,307.5 584.5,296.1 592.5,289.7 606.5,272.3 622.5,258.5 625.2,255.5 630.2,247.5 635,238.5 643.1,228.5 649.4,215.5 655.9,207.5 659.1,201.5 661.5,195.5 666.2,177.5 671.7,165.5 674,154.5Z"/>
<path fill="#670097" d="M676.8,138.5 765.5,138.5 765.5,645.5 120.5,645.5 120.5,628.4 128.5,628.7 133.5,627.5 151.5,618 159.5,614.6 168.5,609.5 175.5,606.9 186.5,601.8 220.2,589.5 222.5,586.8 228.5,575.2 231.5,571.9 244.5,564 252.5,558.2 271.5,549.5 275.5,547 278.3,544.5 282.8,538.5 286.5,534.8 292.5,530.2 306.5,521.8 310.5,518.4 322,506.5 333.5,499 339.5,494.5 347.5,486.5 357.5,478.7 366.1,468.5 371.5,463.4 380.5,457.5 389.5,450.2 406.5,437.9 418.5,427.3 436.5,414.9 449.3,403.5 467.5,391 491.5,378.4 516.1,361.5 525.5,350.4 536.3,342.5 540.5,338.7 549.9,326.5 575.6,306.5 584.6,296.5 593.5,289.3 606.5,273.1 622.5,259.3 625.5,256.1 631,247.5 635.5,239 643.5,229.5 649.7,216.5 656.7,207.5 659.9,201.5 662.2,195.5 666.6,178.5 671,169.5 672.4,165.5Z"/>
<path fill="#6e0090" d="M677.3,138.5 765.5,138.5 765.5,645.5 120.5,645.5 120.5,630.1 127.5,630 133.5,628.7 151.5,619.4 160.5,615.6 167.5,611.4 175.5,608.3 185.5,603.6 222.1,590.5 224.8,587.5 229.5,578 232.5,574.9 237.5,571.4 246.5,566.3 255,560.5 272.5,552.3 277.5,549.2 287.5,537.8 295.4,531.5 308.1,523.5 323.5,507.9 335.5,500.1 342.6,494.5 350.5,486.5 358.9,479.5 367,469.5 371.5,464.9 381.5,458.2 399.5,444.7 408.5,437.6 419.5,427.5 437,415.5 449.1,404.5 467.5,391.8 490.5,379.8 516.5,361.9 525.5,351.2 540.5,339.4 550.6,326.5 576.1,306.5 585.1,296.5 593.8,289.5 606.5,273.9 623.2,259.5 625.9,256.5 631.1,248.5 636,239.5 644.6,229.5 650.5,216.5 657.5,207.5 660.6,201.5 662.8,195.5 664.5,187.5 666.9,179.5 672.8,166.5Z"/>
<path fill="#760089" d="M677.8,138.5 765.5,138.5 765.5,645.5 120.5,645.5 120.5,631.7 126.5,631.4 134.5,629.5 150.5,621.2 161.5,616.6 168.5,612.5 186.5,604.6 198.5,600 222.5,592.1 226,589.5 230.5,580.5 234.5,576.9 249.5,568.4 260.1,561.5 278.5,552.4 281.8,549.5 285.9,543.5 288.5,540.8 297.2,533.5 309.5,525.4 324.9,509.5 336.5,501.8 345.4,494.5 352.1,487.5 360.1,480.5 368.7,469.5 373.5,464.9 396.5,448.8 409.5,438.1 419.5,428.6 437.5,416.1 450.5,404.2 466.5,393.2 488.5,381.9 516.7,362.5 526,351.5 536.5,343.6 541.1,339.5 548.5,329.6 551.4,326.5 576.5,306.7 585.5,296.6 594.4,289.5 606.5,274.7 623.5,260 626.6,256.5 631.9,248.5 636.5,240 642.7,233.5 645.6,229.5 651.4,216.5 658.3,207.5 660.9,202.5 663.2,196.5 665.1,187.5 667.5,179.7 673.5,166.5Z"/>
<path fill="#7d0081" d="M678.3,138.5 765.5,138.5 765.5,645.5 120.5,645.5 120.5,633.4 124.5,633 134.5,630.7 149.5,622.9 160.5,618.5 168.5,614 187.5,605.6 199.5,601 223.5,593.3 227.5,590.4 231.5,583.1 234.5,580.2 241.5,576 254.5,570 263.5,563.5 280.5,554.9 284.1,551.5 288.2,545.5 290.5,543.1 300.5,534.5 310.9,527.5 325.5,511.9 336.5,504.2 348,494.5 361.5,481.2 369.6,470.5 374.5,465.6 396.5,450.7 410.5,438.5 419.7,429.5 438.2,416.5 451.5,404.3 466.5,393.9 487.5,383.3 517.5,362.5 526.5,351.8 536.5,344.3 541.8,339.5 548.5,330.5 552.2,326.5 576.2,307.5 585.5,297 594.5,290 606.5,275.4 624.5,259.9 631.4,250.5 637.5,239.9 645.4,231.5 648.3,226.5 652.3,216.5 659.6,206.5 663.2,198.5 667.5,181.7 674.2,166.5Z"/>
<path fill="#84007a" d="M678.8,138.5 765.5,138.5 765.5,645.5 120.5,645.5 120.5,634.9 135.5,631.6 149.5,624.1 161.5,619.4 169.5,615 188.5,606.6 201.9,601.5 223.5,595 228.8,591.5 233.4,584.5 235.8,582.5 243.5,578.4 257.5,573.1 267.1,565.5 281.7,557.5 285.5,554.1 292.5,545.7 304.1,535.5 312.8,529.5 326.5,514.4 334.5,508.5 350.4,494.5 362.5,482.5 371.3,470.5 375.4,466.5 396.8,452.5 419.8,430.5 438.5,417.2 452.3,404.5 466.5,394.6 478.5,389.2 486.5,384.8 517.5,363.2 526.5,352.6 537.5,344.1 542.5,339.5 549.2,330.5 552.5,326.9 576.5,307.8 585.5,297.5 594.6,290.5 606.5,276.2 624.7,260.5 632.2,250.5 637.5,241.1 646.5,231.5 649.3,226.5 653.1,216.5 660.4,206.5 663.6,199.5 667.5,183.5 674.8,166.5Z"/>
<path fill="#8c0072" d="M679.3,138.5 765.5,138.5 765.5,645.5 120.5,645.5 120.5,636.5 135.5,632.9 149.2,625.5 161.5,620.8 169.5,616.5 189.8,607.5 205.9,601.5 223.5,596.6 229.5,593 234.5,586.9 238.5,584.1 245.5,581 257.5,577.6 261.3,575.5 274.5,564.6 284.5,558.5 294.5,548 313.5,532.7 326.5,518.2 334.5,511.8 362.8,484.5 372.2,471.5 376.1,467.5 398,453.5 404.4,446.5 412.5,439.3 420.5,431 438.5,418.1 453.3,404.5 466.5,395.4 478.5,390.1 486.5,385.7 517.9,363.5 526.5,353.3 537.5,344.8 542.5,340.2 552.7,327.5 576.5,308.3 585.5,298 594.5,291.2 606.5,277 625.5,260.5 633,250.5 638.1,241.5 646.8,232.5 649.9,227.5 654,216.5 661.1,206.5 664.3,199.5 667.9,184.5 670.1,178.5 674.1,170.5 675.4,166.5Z"/>
<path fill="#93006b" d="M679.9,138.5 765.5,138.5 765.5,645.5 120.5,645.5 120.5,638.1 136.5,634.1 150.2,626.5 161.5,622.3 189,609.5 199.1,605.5 207.5,602.5 218.5,600 224.5,598.1 229.5,595.3 236.5,588.7 240.5,586.4 247.5,583.8 258.5,581.3 263.5,578.8 276.6,566.5 286.5,559.8 295.5,550.6 306.2,542.5 314.5,535.2 326.5,522 335.5,514.5 343,505.5 353.1,496.5 364.2,485.5 367.5,481.3 373.1,472.5 376.8,468.5 398.5,455 405.9,446.5 412.5,440.6 421.2,431.5 438.5,418.9 454.3,404.5 466.5,396.1 477.5,391.5 486.5,386.6 518.5,363.7 527.1,353.5 537.5,345.4 542.8,340.5 553.5,327.5 576.5,308.9 585.5,298.5 594.7,291.5 606.5,277.7 625.5,261.4 633.2,251.5 638.5,242.3 647.9,232.5 650.8,227.5 654.8,216.5 660.6,208.5 663.5,203.3 665.5,197.6 668.5,184.5 675.2,169.5 676.6,163.5Z"/>
</g>
<path d="M120.2,312.3 130,311 142.5,309.4 161.3,296.9 186.4,285.3 205.2,283.4 233.4,277.5 255.4,275.6 280.5,265.5 318,253 362,238.9 400,226.4 412,224.2 427.8,214.5 450,212.3 478.4,209 503.4,198 525.4,182.5 531.7,166.8 540,157 547.3,151 549,148 552,138.5 120.2,138.5Z" fill="#808080"/>
<g id="north" stroke="#000" stroke-width="1.9" stroke-linejoin="miter">
<path d="M705.3,518.5 L669.6,595 L705.3,557.5 Z" fill="none"/>
<path d="M705.3,518.5 L741,595 L705.3,557.5 Z" fill="#000"/>
</g>
<text x="704.25" y="622.9" text-anchor="middle" textLength="29.2" lengthAdjust="spacingAndGlyphs" style="font-family:'DejaVu Sans','Liberation Sans',sans-serif;font-size:37.2px">N</text>
</g>
<g id="frame">
<path fill="#fff" d="M118.5,135.6H764.4V647.6H118.5Z M130.25,148.5V635.25H755.5V148.5Z" fill-rule="evenodd"/>
<rect x="130.25" y="135.6" width="70.15" height="12.9" fill="#000"/>
<rect x="372.6" y="135.6" width="172.3" height="12.9" fill="#000"/>
<rect x="716.9" y="135.6" width="35.35" height="12.9" fill="#000"/>
<rect x="130.25" y="635.25" width="70.15" height="12.35" fill="#000"/>
<rect x="372.6" y="635.25" width="172.3" height="12.35" fill="#000"/>
<rect x="716.9" y="635.25" width="35.35" height="12.35" fill="#000"/>
<rect x="118.5" y="148.5" width="11.75" height="139.2" fill="#000"/>
<rect x="118.5" y="460.6" width="11.75" height="174.65" fill="#000"/>
<rect x="755.5" y="148.5" width="8.9" height="139.2" fill="#000"/>
<rect x="755.5" y="460.6" width="8.9" height="174.65" fill="#000"/>
<rect x="119.1" y="136.4" width="644.7" height="510.5" fill="none" stroke="#000" stroke-width="1.7"/>
<path d="M130,148.1H755.5M130,635.75H755.5" fill="none" stroke="#000" stroke-width="1.1"/>
</g>
<g class="tah" id="gridlabels">
<text><tspan x="145.6" y="129.75" textLength="74.9" lengthAdjust="spacingAndGlyphs">15.580</tspan><tspan x="226.45" y="134.35" text-anchor="middle" style="font-size:32.5px">°</tspan><tspan x="233.1" y="129.75" textLength="22.0" lengthAdjust="spacingAndGlyphs">W</tspan></text>
<text><tspan x="145.6" y="673.1" textLength="74.9" lengthAdjust="spacingAndGlyphs">15.580</tspan><tspan x="226.45" y="677.7" text-anchor="middle" style="font-size:32.5px">°</tspan><tspan x="233.1" y="673.1" textLength="22.0" lengthAdjust="spacingAndGlyphs">W</tspan></text>
<text><tspan x="317.8" y="129.75" textLength="74.9" lengthAdjust="spacingAndGlyphs">15.575</tspan><tspan x="398.65" y="134.35" text-anchor="middle" style="font-size:32.5px">°</tspan><tspan x="405.3" y="129.75" textLength="22.0" lengthAdjust="spacingAndGlyphs">W</tspan></text>
<text><tspan x="317.8" y="673.1" textLength="74.9" lengthAdjust="spacingAndGlyphs">15.575</tspan><tspan x="398.65" y="677.7" text-anchor="middle" style="font-size:32.5px">°</tspan><tspan x="405.3" y="673.1" textLength="22.0" lengthAdjust="spacingAndGlyphs">W</tspan></text>
<text><tspan x="490.1" y="129.75" textLength="74.9" lengthAdjust="spacingAndGlyphs">15.570</tspan><tspan x="570.95" y="134.35" text-anchor="middle" style="font-size:32.5px">°</tspan><tspan x="577.6" y="129.75" textLength="22.0" lengthAdjust="spacingAndGlyphs">W</tspan></text>
<text><tspan x="490.1" y="673.1" textLength="74.9" lengthAdjust="spacingAndGlyphs">15.570</tspan><tspan x="570.95" y="677.7" text-anchor="middle" style="font-size:32.5px">°</tspan><tspan x="577.6" y="673.1" textLength="22.0" lengthAdjust="spacingAndGlyphs">W</tspan></text>
<text><tspan x="663.1" y="129.75" textLength="74.9" lengthAdjust="spacingAndGlyphs">15.565</tspan><tspan x="743.95" y="134.35" text-anchor="middle" style="font-size:32.5px">°</tspan><tspan x="750.6" y="129.75" textLength="22.0" lengthAdjust="spacingAndGlyphs">W</tspan></text>
<text><tspan x="663.1" y="673.1" textLength="74.9" lengthAdjust="spacingAndGlyphs">15.565</tspan><tspan x="743.95" y="677.7" text-anchor="middle" style="font-size:32.5px">°</tspan><tspan x="750.6" y="673.1" textLength="22.0" lengthAdjust="spacingAndGlyphs">W</tspan></text>
<text><tspan x="11.1" y="297.3" textLength="74.9" lengthAdjust="spacingAndGlyphs">27.735</tspan><tspan x="89.9" y="301.9" text-anchor="middle" style="font-size:32.5px">°</tspan><tspan x="95.8" y="297.3" textLength="17.4" lengthAdjust="spacingAndGlyphs">N</tspan></text>
<text><tspan x="770.2" y="297.3" textLength="74.9" lengthAdjust="spacingAndGlyphs">27.735</tspan><tspan x="849.0" y="301.9" text-anchor="middle" style="font-size:32.5px">°</tspan><tspan x="854.9" y="297.3" textLength="17.4" lengthAdjust="spacingAndGlyphs">N</tspan></text>
<text><tspan x="11.1" y="470.9" textLength="74.9" lengthAdjust="spacingAndGlyphs">27.730</tspan><tspan x="89.9" y="475.5" text-anchor="middle" style="font-size:32.5px">°</tspan><tspan x="95.8" y="470.9" textLength="17.4" lengthAdjust="spacingAndGlyphs">N</tspan></text>
<text><tspan x="770.2" y="470.9" textLength="74.9" lengthAdjust="spacingAndGlyphs">27.730</tspan><tspan x="849.0" y="475.5" text-anchor="middle" style="font-size:32.5px">°</tspan><tspan x="854.9" y="470.9" textLength="17.4" lengthAdjust="spacingAndGlyphs">N</tspan></text>
</g>
<g id="colorbar">
<rect x="881.9" y="151.5" width="26.9" height="481.5" fill="url(#cbar)"/>
<path d="M882.3,151.5V633M908.4,151.5V633" stroke="#222" stroke-opacity="0.55" stroke-width="0.9" fill="none"/>
<path d="M908.6,152H911.6" stroke="#111" stroke-width="1.2"/>
<text class="ari" x="914.2" y="159.0">0.00</text>
<path d="M908.6,271.9H911.6" stroke="#111" stroke-width="1.2"/>
<text class="ari" x="914.2" y="278.9">-5.00</text>
<path d="M908.6,392.3H911.6" stroke="#111" stroke-width="1.2"/>
<text class="ari" x="914.2" y="399.3">-10.00</text>
<path d="M908.6,512.6H911.6" stroke="#111" stroke-width="1.2"/>
<text class="ari" x="914.2" y="519.6">-15.00</text>
<path d="M908.6,632.5H911.6" stroke="#111" stroke-width="1.2"/>
<text class="ari" x="914.2" y="639.5">-20.00</text>
<text transform="translate(1010.2,633.6) rotate(-90)" style="font-family:'Liberation Sans',sans-serif;font-weight:bold;font-size:21.2px" fill="#000">Bathymetry</text>
<text transform="translate(1009.3,484.2) rotate(-90)" style="font-family:'Liberation Sans',sans-serif;font-style:italic;font-size:14.5px" fill="#111">m</text>
</g>
<text style="font-family:'Liberation Serif','DejaVu Serif',serif" fill="#000"><tspan x="494.6" y="751.6" text-anchor="middle" style="font-size:40.6px">(</tspan><tspan x="509.9" y="751.3" text-anchor="middle" style="font-size:36px;font-weight:bold">a</tspan><tspan x="524.2" y="751.6" text-anchor="middle" style="font-size:40.6px">)</tspan></text>
</svg></body></html>
